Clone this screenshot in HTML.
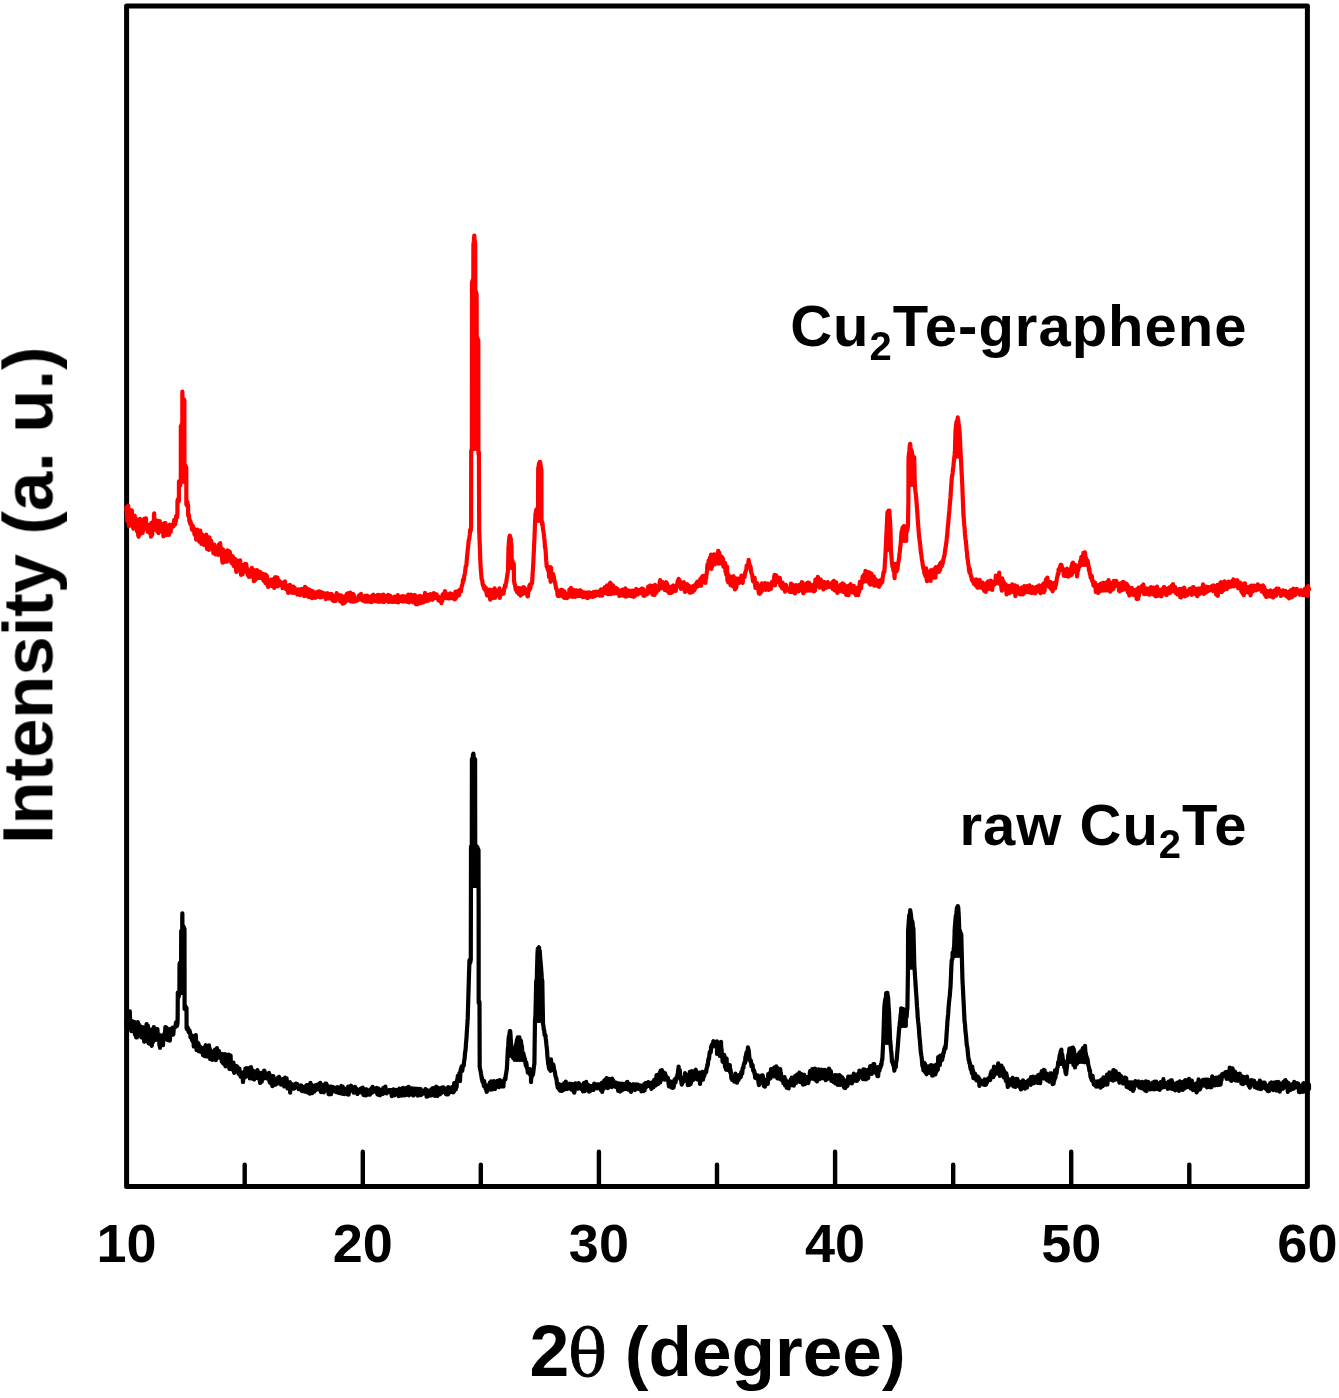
<!DOCTYPE html>
<html lang="en"><head><meta charset="utf-8"><title>XRD patterns</title>
<style>
html,body{margin:0;padding:0;background:#fff;}
body{width:1339px;height:1398px;overflow:hidden;}
svg{display:block;}
text{font-family:"Liberation Sans",sans-serif;font-weight:bold;fill:#000;}
.th{font-family:"DejaVu Serif","Liberation Serif",serif;font-weight:normal;}
</style></head><body>
<svg width="1339" height="1398" viewBox="0 0 1339 1398">
<defs><filter id="soft" x="0" y="0" width="1339" height="1398" filterUnits="userSpaceOnUse"><feGaussianBlur stdDeviation="0.6"/></filter></defs>
<rect x="0" y="0" width="1339" height="1398" fill="#fff"/>
<g filter="url(#soft)">
<path d="M244.7 1186.5 V1164.6 M362.8 1186.5 V1151.8 M480.8 1186.5 V1164.6 M598.9 1186.5 V1151.8 M717.0 1186.5 V1164.6 M835.1 1186.5 V1151.8 M953.2 1186.5 V1164.6 M1071.2 1186.5 V1151.8 M1189.3 1186.5 V1164.6" fill="none" stroke="#000" stroke-width="4.4" stroke-linecap="round"/>
<rect x="126.6" y="5.9" width="1180.8" height="1180.6" fill="none" stroke="#000" stroke-width="5" stroke-linejoin="round"/>
<path d="M126.20 510.5 L126.60 507.1 L127.00 515.3 L127.40 521.0 L127.80 514.4 L128.00 516.1 L128.20 505.7 L128.60 516.0 L129.00 526.1 L129.40 523.9 L129.80 520.7 L130.20 510.1 L130.30 524.5 L130.60 524.1 L131.00 512.7 L131.40 521.8 L131.80 510.3 L132.00 514.8 L132.20 517.5 L132.60 515.1 L133.00 526.9 L133.40 528.7 L133.80 520.0 L134.00 518.7 L134.20 515.9 L134.60 515.6 L135.00 526.7 L135.40 525.6 L135.80 518.0 L136.20 525.1 L136.60 524.1 L137.00 531.5 L137.00 529.6 L137.40 528.4 L137.80 528.2 L138.20 535.0 L138.60 536.6 L139.00 523.3 L139.40 522.0 L139.80 534.7 L140.00 518.8 L140.20 525.5 L140.60 520.6 L141.00 524.6 L141.40 519.5 L141.80 522.5 L142.20 531.9 L142.60 532.8 L143.00 530.8 L143.40 526.1 L143.80 525.7 L144.20 522.1 L144.60 518.7 L145.00 522.2 L145.40 526.5 L145.80 518.4 L146.00 518.4 L146.20 528.8 L146.60 523.3 L147.00 528.5 L147.40 529.5 L147.80 532.0 L148.20 525.6 L148.60 525.0 L149.00 531.5 L149.40 531.9 L149.80 529.9 L150.20 533.4 L150.60 529.9 L151.00 536.6 L151.40 522.9 L151.80 530.3 L152.20 534.8 L152.60 522.1 L153.00 526.4 L153.40 522.3 L153.80 524.4 L154.00 515.6 L154.20 513.3 L154.60 529.2 L155.00 522.7 L155.40 526.7 L155.80 529.7 L156.20 523.3 L156.60 523.6 L157.00 520.7 L157.40 531.6 L157.80 532.0 L158.20 530.7 L158.60 533.1 L159.00 529.6 L159.40 531.0 L159.80 521.2 L160.20 531.0 L160.60 525.1 L161.00 525.9 L161.40 523.8 L161.80 529.4 L162.20 531.4 L162.60 531.3 L163.00 526.9 L163.00 525.5 L163.40 536.5 L163.80 526.7 L164.20 529.5 L164.60 523.1 L165.00 526.2 L165.40 523.1 L165.80 526.8 L166.20 532.4 L166.60 535.1 L167.00 530.4 L167.40 525.9 L167.80 531.0 L168.00 530.5 L168.20 532.9 L168.60 528.6 L169.00 534.8 L169.40 527.0 L169.80 524.7 L170.20 527.6 L170.60 532.0 L171.00 528.6 L171.40 525.0 L171.80 524.9 L172.00 525.8 L172.20 524.7 L172.60 524.5 L173.00 526.6 L173.40 526.3 L173.80 525.4 L174.20 519.9 L174.60 522.7 L175.00 520.7 L175.20 524.5 L175.40 519.5 L175.80 521.6 L176.20 515.8 L176.60 515.8 L177.00 517.5 L177.40 514.0 L177.40 514.0 L177.44 501.5 L177.80 499.3 L178.20 502.2 L178.60 500.6 L178.90 501.0 L178.94 483.4 L179.00 481.3 L179.40 485.9 L179.80 485.7 L180.20 485.5 L180.60 482.2 L180.80 483.0 L180.84 426.0 L180.85 482.0 L180.86 426.0 L181.00 427.2 L181.40 427.4 L181.80 424.0 L182.20 424.8 L182.21 482.0 L182.22 424.8 L182.30 425.5 L182.34 393.0 L182.38 391.6 L182.42 393.1 L182.46 400.4 L182.60 397.5 L183.00 402.9 L183.40 401.6 L183.80 399.6 L183.81 482.0 L183.82 399.6 L184.20 399.6 L184.40 401.0 L184.44 467.0 L184.60 463.8 L185.00 466.9 L185.40 465.5 L185.41 482.0 L185.42 465.5 L185.80 467.6 L186.20 469.1 L186.30 467.5 L186.34 504.5 L186.60 500.8 L187.00 505.9 L187.40 501.8 L187.80 507.2 L188.10 505.0 L188.14 514.1 L188.20 515.8 L188.60 514.1 L189.00 515.9 L189.40 521.4 L189.80 519.8 L190.20 523.8 L190.30 520.9 L190.60 522.3 L191.00 524.8 L191.40 523.7 L191.80 528.2 L192.20 529.8 L192.60 527.5 L193.00 528.1 L193.00 526.2 L193.40 529.5 L193.80 528.0 L194.20 532.1 L194.60 534.8 L195.00 532.8 L195.40 533.6 L195.80 533.8 L196.20 539.7 L196.60 533.7 L197.00 539.3 L197.00 532.7 L197.40 529.5 L197.80 530.7 L198.20 539.3 L198.60 531.6 L199.00 540.7 L199.40 541.7 L199.80 536.5 L200.20 530.6 L200.60 539.2 L201.00 536.3 L201.40 543.8 L201.80 534.2 L202.20 535.2 L202.60 540.3 L203.00 540.4 L203.40 536.6 L203.80 539.1 L204.20 545.0 L204.60 542.4 L205.00 535.6 L205.00 541.1 L205.40 541.7 L205.80 542.4 L206.20 534.5 L206.60 536.8 L207.00 549.0 L207.40 547.8 L207.80 549.1 L208.20 546.5 L208.60 541.1 L209.00 550.0 L209.40 537.4 L209.80 543.8 L210.20 542.9 L210.60 542.7 L211.00 540.5 L211.40 541.9 L211.80 546.7 L212.20 544.5 L212.60 546.0 L213.00 545.5 L213.00 546.9 L213.40 553.2 L213.80 549.9 L214.20 544.5 L214.60 552.7 L215.00 550.1 L215.40 554.4 L215.80 550.7 L216.20 548.8 L216.60 554.1 L217.00 547.4 L217.40 548.4 L217.80 550.7 L218.20 554.8 L218.60 544.8 L219.00 548.4 L219.40 551.2 L219.80 553.3 L220.20 543.2 L220.60 554.0 L221.00 550.9 L221.00 551.0 L221.40 548.8 L221.80 548.4 L222.20 560.0 L222.60 562.6 L223.00 549.3 L223.40 550.6 L223.80 558.1 L224.20 560.7 L224.60 561.9 L225.00 556.0 L225.40 554.9 L225.80 552.8 L226.20 556.6 L226.60 558.1 L227.00 561.6 L227.40 550.3 L227.80 550.7 L228.20 558.6 L228.60 558.6 L229.00 551.8 L229.40 551.4 L229.80 551.8 L230.20 560.4 L230.60 556.0 L231.00 555.4 L231.40 563.0 L231.80 555.8 L232.20 561.1 L232.60 556.3 L233.00 556.8 L233.40 564.8 L233.80 566.0 L234.20 562.4 L234.60 561.6 L235.00 565.9 L235.40 559.2 L235.80 561.6 L236.20 571.1 L236.50 571.9 L236.60 561.2 L237.00 560.4 L237.40 568.4 L237.80 565.7 L238.20 568.1 L238.60 567.4 L239.00 564.7 L239.40 567.7 L239.80 567.6 L240.20 560.4 L240.60 567.2 L241.00 574.9 L241.40 573.0 L241.80 571.1 L242.20 570.8 L242.60 574.1 L243.00 565.0 L243.40 566.9 L243.80 570.6 L244.20 572.0 L244.60 565.4 L245.00 564.0 L245.40 564.4 L245.80 566.5 L246.20 564.0 L246.60 569.0 L247.00 571.9 L247.40 568.8 L247.80 575.1 L248.20 570.8 L248.60 571.7 L249.00 576.9 L249.40 574.3 L249.80 573.4 L250.20 576.7 L250.60 573.0 L251.00 576.3 L251.40 570.5 L251.80 567.8 L252.20 574.5 L252.60 574.0 L253.00 574.4 L253.40 570.4 L253.80 581.1 L254.20 570.2 L254.40 580.9 L254.60 572.1 L255.00 572.2 L255.40 579.0 L255.80 579.2 L256.20 576.8 L256.60 578.0 L257.00 570.2 L257.40 576.0 L257.80 574.9 L258.20 571.3 L258.60 574.9 L259.00 572.1 L259.40 578.2 L259.80 577.6 L260.20 571.9 L260.60 573.3 L261.00 575.7 L261.40 577.9 L261.80 575.4 L262.20 576.1 L262.60 578.8 L263.00 573.8 L263.40 580.6 L263.80 576.7 L264.20 576.5 L264.60 579.1 L265.00 574.6 L265.40 583.1 L265.80 574.7 L266.20 579.1 L266.60 583.3 L267.00 576.2 L267.40 582.5 L267.80 586.0 L268.20 586.9 L268.60 580.3 L269.00 582.2 L269.40 583.7 L269.80 581.4 L270.20 583.9 L270.60 583.2 L271.00 579.5 L271.40 582.4 L271.80 585.9 L272.20 582.0 L272.40 581.7 L272.60 580.4 L273.00 579.3 L273.40 584.7 L273.80 582.3 L274.20 587.9 L274.60 578.0 L275.00 585.5 L275.40 577.1 L275.80 583.9 L276.20 580.8 L276.60 583.9 L277.00 581.0 L277.40 577.6 L277.80 586.4 L278.20 583.6 L278.60 580.0 L279.00 584.0 L279.40 581.3 L279.80 583.3 L280.20 584.6 L280.60 584.9 L281.00 582.1 L281.40 582.4 L281.80 585.6 L282.20 585.2 L282.60 588.2 L283.00 585.8 L283.40 587.4 L283.80 583.9 L284.20 582.5 L284.60 583.3 L285.00 581.5 L285.40 585.0 L285.80 587.9 L286.20 589.4 L286.60 585.6 L287.00 588.6 L287.40 589.0 L287.80 588.9 L288.20 592.9 L288.60 589.5 L289.00 588.9 L289.40 590.4 L289.80 584.9 L290.20 585.0 L290.30 591.2 L290.60 589.4 L291.00 588.1 L291.40 590.6 L291.80 592.5 L292.20 591.4 L292.60 590.6 L293.00 592.6 L293.40 586.7 L293.80 593.0 L294.20 590.6 L294.60 587.9 L295.00 590.8 L295.40 592.4 L295.80 591.7 L296.20 592.6 L296.60 592.7 L297.00 594.0 L297.40 594.6 L297.80 591.0 L298.20 589.3 L298.60 591.4 L299.00 592.1 L299.40 590.7 L299.80 592.5 L300.20 595.2 L300.60 589.7 L301.00 591.3 L301.40 593.8 L301.80 588.8 L302.20 590.2 L302.60 592.1 L303.00 593.7 L303.40 593.8 L303.80 589.4 L304.20 596.1 L304.60 590.4 L305.00 586.9 L305.40 587.4 L305.80 591.3 L306.20 595.2 L306.60 588.3 L307.00 589.2 L307.40 596.0 L307.80 596.5 L308.20 590.6 L308.60 589.5 L309.00 595.4 L309.40 597.0 L309.80 589.9 L310.20 594.7 L310.40 591.0 L310.60 596.1 L311.00 591.6 L311.40 591.4 L311.80 594.6 L312.20 598.2 L312.60 591.0 L313.00 591.6 L313.40 592.6 L313.80 597.0 L314.20 593.0 L314.60 592.4 L315.00 593.6 L315.40 597.9 L315.80 592.4 L316.20 594.3 L316.60 594.3 L317.00 593.9 L317.40 593.5 L317.80 596.7 L318.20 591.6 L318.60 593.6 L319.00 591.4 L319.40 596.4 L319.80 593.4 L320.20 597.4 L320.60 594.6 L321.00 592.0 L321.40 597.2 L321.80 593.1 L322.20 595.7 L322.60 596.6 L323.00 592.9 L323.40 593.1 L323.80 594.9 L324.20 594.2 L324.60 593.9 L325.00 593.7 L325.40 594.5 L325.80 599.1 L326.20 594.6 L326.60 594.5 L327.00 593.6 L327.40 593.2 L327.80 593.3 L328.20 598.0 L328.60 598.3 L329.00 595.1 L329.40 596.3 L329.80 597.8 L330.20 597.9 L330.60 595.3 L331.00 593.9 L331.40 598.9 L331.80 594.2 L332.20 597.2 L332.60 600.3 L332.80 599.1 L333.00 595.9 L333.40 599.3 L333.80 601.1 L334.20 596.4 L334.60 599.9 L335.00 597.1 L335.40 595.8 L335.80 600.8 L336.20 598.4 L336.60 593.1 L337.00 597.3 L337.40 595.8 L337.80 596.4 L338.20 598.2 L338.60 594.9 L339.00 598.6 L339.40 595.3 L339.80 597.3 L340.20 601.5 L340.60 600.1 L341.00 596.8 L341.40 595.4 L341.80 599.3 L342.20 599.0 L342.60 603.6 L343.00 597.8 L343.40 602.4 L343.80 596.8 L344.20 602.0 L344.60 602.8 L345.00 596.3 L345.40 598.7 L345.80 601.3 L346.20 597.3 L346.60 594.2 L347.00 600.6 L347.40 597.9 L347.80 595.0 L348.20 593.2 L348.60 597.8 L349.00 595.1 L349.40 600.0 L349.80 594.2 L350.20 592.6 L350.60 601.5 L351.00 596.4 L351.40 600.3 L351.80 597.9 L352.20 600.7 L352.60 601.5 L353.00 593.9 L353.40 595.7 L353.80 594.8 L354.20 601.7 L354.60 599.4 L355.00 601.0 L355.40 601.3 L355.80 600.5 L356.20 600.1 L356.60 600.7 L357.00 598.5 L357.40 599.9 L357.80 600.3 L358.20 598.1 L358.60 595.9 L359.00 598.7 L359.40 595.0 L359.80 596.1 L360.20 596.9 L360.60 599.5 L361.00 593.9 L361.40 596.4 L361.80 595.9 L362.20 599.1 L362.60 600.5 L363.00 598.1 L363.40 600.7 L363.80 597.6 L364.20 598.2 L364.60 596.2 L365.00 596.0 L365.40 601.7 L365.80 598.9 L366.20 596.5 L366.50 599.4 L366.60 598.4 L367.00 595.7 L367.40 601.2 L367.80 601.6 L368.20 599.8 L368.60 596.7 L369.00 598.9 L369.40 597.8 L369.80 597.6 L370.20 598.4 L370.60 601.9 L371.00 601.2 L371.40 600.9 L371.80 602.1 L372.20 595.6 L372.60 596.7 L373.00 595.1 L373.40 594.6 L373.80 599.3 L374.20 596.8 L374.60 598.3 L375.00 600.9 L375.40 596.9 L375.80 597.1 L376.20 600.1 L376.60 595.9 L377.00 601.5 L377.40 597.7 L377.80 594.9 L378.20 597.2 L378.60 596.1 L379.00 601.9 L379.40 595.2 L379.80 595.2 L380.20 600.3 L380.60 596.3 L381.00 596.8 L381.40 601.6 L381.80 598.4 L382.20 601.3 L382.60 596.4 L383.00 594.6 L383.40 594.6 L383.80 602.1 L384.20 595.7 L384.60 595.6 L385.00 596.0 L385.40 599.3 L385.80 600.1 L386.20 598.2 L386.60 599.4 L387.00 598.2 L387.40 601.1 L387.80 599.4 L388.20 594.9 L388.60 596.6 L389.00 602.0 L389.40 597.8 L389.80 599.0 L390.20 595.8 L390.60 599.6 L391.00 599.7 L391.40 597.5 L391.80 601.9 L392.20 598.5 L392.60 598.1 L393.00 599.7 L393.40 601.8 L393.80 601.1 L394.20 599.7 L394.60 596.5 L395.00 599.3 L395.40 600.9 L395.80 601.8 L396.20 597.9 L396.60 600.0 L397.00 600.6 L397.40 600.8 L397.80 595.1 L398.20 602.3 L398.60 597.0 L399.00 601.0 L399.40 601.0 L399.80 599.1 L400.20 598.4 L400.60 596.6 L401.00 596.8 L401.40 601.1 L401.80 598.8 L402.20 597.5 L402.60 596.1 L403.00 601.0 L403.40 601.5 L403.80 600.5 L404.20 600.2 L404.60 596.4 L405.00 599.5 L405.40 599.0 L405.80 600.8 L406.20 600.6 L406.60 601.6 L407.00 601.5 L407.40 599.6 L407.80 600.8 L408.20 594.7 L408.60 598.3 L409.00 602.4 L409.40 595.3 L409.80 597.3 L410.20 600.6 L410.60 598.3 L411.00 594.7 L411.00 596.0 L411.40 599.1 L411.80 598.0 L412.20 598.4 L412.60 601.7 L413.00 602.2 L413.40 595.1 L413.80 601.6 L414.20 598.2 L414.60 600.4 L415.00 595.0 L415.40 598.3 L415.80 604.0 L416.20 604.1 L416.60 599.8 L417.00 598.1 L417.40 604.3 L417.80 600.5 L418.20 603.8 L418.60 596.4 L419.00 600.2 L419.40 598.5 L419.80 595.8 L420.20 600.1 L420.60 603.2 L421.00 598.9 L421.40 596.8 L421.80 600.6 L422.20 602.3 L422.60 601.3 L423.00 596.4 L423.40 602.4 L423.80 601.4 L424.20 597.8 L424.60 601.0 L425.00 592.8 L425.40 594.8 L425.80 596.9 L426.20 601.2 L426.60 600.2 L427.00 599.6 L427.40 599.7 L427.80 598.8 L428.20 594.9 L428.60 600.6 L429.00 599.5 L429.40 596.8 L429.80 598.7 L430.20 597.6 L430.60 594.2 L431.00 599.5 L431.40 596.1 L431.80 597.3 L432.20 598.3 L432.60 599.8 L433.00 597.0 L433.40 596.7 L433.80 593.2 L434.20 594.5 L434.60 597.9 L435.00 595.2 L435.40 597.0 L435.80 594.3 L436.20 598.1 L436.60 594.4 L437.00 597.3 L437.40 595.9 L437.80 597.6 L438.20 596.5 L438.60 600.5 L439.00 597.6 L439.40 597.1 L439.80 598.0 L440.00 597.9 L440.20 601.1 L440.60 597.8 L441.00 597.4 L441.40 603.2 L441.80 597.0 L442.20 601.0 L442.60 594.7 L443.00 598.9 L443.40 593.9 L443.80 595.9 L444.20 594.5 L444.60 596.3 L445.00 591.2 L445.40 593.0 L445.80 597.7 L446.20 598.1 L446.60 598.1 L447.00 596.4 L447.40 597.9 L447.80 595.3 L448.20 594.3 L448.60 598.3 L449.00 595.9 L449.40 594.1 L449.80 598.3 L450.20 593.3 L450.60 597.1 L451.00 593.6 L451.40 597.2 L451.80 595.8 L452.00 598.2 L452.20 595.6 L452.60 597.4 L453.00 594.5 L453.40 598.0 L453.80 594.6 L454.20 599.0 L454.60 596.8 L455.00 599.3 L455.40 591.6 L455.80 594.5 L456.20 597.9 L456.60 593.3 L457.00 595.0 L457.40 594.0 L457.80 591.0 L458.00 591.1 L458.20 593.6 L458.60 591.6 L459.00 595.4 L459.40 591.0 L459.80 589.7 L460.20 589.4 L460.60 589.8 L461.00 591.5 L461.00 591.0 L461.40 588.2 L461.80 586.2 L462.20 584.9 L462.60 583.8 L463.00 579.5 L463.40 581.2 L463.80 580.0 L464.20 576.6 L464.30 575.8 L464.60 574.8 L465.00 572.5 L465.40 569.2 L465.80 566.1 L466.20 566.1 L466.50 564.6 L466.60 562.5 L467.00 557.4 L467.40 553.6 L467.80 549.0 L468.20 546.7 L468.60 540.6 L468.60 540.9 L469.00 539.8 L469.40 537.7 L469.80 534.3 L470.20 529.9 L470.60 529.2 L470.80 530.8 L471.00 526.9 L471.10 527.0 L471.20 451.0 L471.40 450.2 L471.80 449.0 L471.90 450.0 L472.00 282.0 L472.01 449.0 L472.02 282.0 L472.20 283.9 L472.60 280.2 L473.00 280.2 L473.30 280.0 L473.31 449.0 L473.32 280.0 L473.40 244.6 L473.40 244.5 L473.80 241.4 L474.20 236.6 L474.30 235.5 L474.60 240.3 L474.61 449.0 L474.62 240.3 L475.00 242.6 L475.20 244.0 L475.30 292.9 L475.40 292.7 L475.80 291.4 L476.20 292.9 L476.21 449.0 L476.22 292.9 L476.60 294.0 L476.60 294.0 L476.70 338.0 L477.00 340.0 L477.40 337.9 L477.80 340.4 L477.81 449.0 L477.82 340.4 L478.20 342.5 L478.30 340.0 L478.40 450.0 L478.60 454.7 L478.90 452.1 L479.00 478.1 L479.20 530.0 L479.40 535.3 L479.80 546.0 L480.20 557.8 L480.40 562.4 L480.60 566.3 L481.00 571.3 L481.40 576.4 L481.60 578.6 L481.80 579.6 L482.20 580.2 L482.60 584.1 L483.00 584.9 L483.40 586.4 L483.50 585.2 L483.80 585.6 L484.20 588.7 L484.60 586.5 L485.00 589.8 L485.40 589.6 L485.80 587.8 L486.20 591.4 L486.60 593.2 L487.00 595.4 L487.00 590.2 L487.40 591.6 L487.80 592.4 L488.20 592.9 L488.60 591.5 L489.00 592.0 L489.40 589.6 L489.80 594.9 L490.20 599.6 L490.60 591.6 L491.00 596.6 L491.40 594.9 L491.80 592.5 L492.00 592.7 L492.20 598.2 L492.60 589.8 L493.00 594.2 L493.40 593.9 L493.80 597.4 L494.20 589.9 L494.60 588.3 L495.00 597.8 L495.40 592.2 L495.80 592.9 L496.20 590.6 L496.60 592.4 L497.00 592.0 L497.40 595.1 L497.80 591.2 L498.20 591.6 L498.60 592.7 L499.00 592.6 L499.40 588.3 L499.80 597.8 L500.00 596.6 L500.20 595.1 L500.60 594.1 L501.00 590.8 L501.40 593.2 L501.80 594.1 L502.20 592.9 L502.60 593.8 L503.00 592.8 L503.40 592.3 L503.50 593.7 L503.80 591.2 L504.20 588.0 L504.60 588.1 L505.00 585.0 L505.40 585.6 L505.50 586.7 L505.80 583.6 L506.20 582.4 L506.60 579.8 L506.60 579.5 L507.00 577.1 L507.40 575.0 L507.80 571.9 L508.00 570.1 L508.20 560.6 L508.21 568.0 L508.22 560.6 L508.50 546.4 L508.60 545.7 L509.00 540.9 L509.40 536.9 L509.40 538.3 L509.80 535.5 L509.81 568.0 L509.82 535.5 L510.10 537.0 L510.20 538.5 L510.60 538.9 L510.80 538.4 L511.00 541.9 L511.40 545.5 L511.41 568.0 L511.42 545.5 L511.50 545.9 L511.70 563.0 L511.80 560.3 L512.20 559.8 L512.60 565.9 L513.00 566.0 L513.40 563.1 L513.41 568.0 L513.42 563.1 L513.80 564.0 L513.80 564.0 L514.00 580.8 L514.20 581.8 L514.60 584.2 L515.00 584.6 L515.40 587.2 L515.50 588.4 L515.80 589.8 L516.20 588.1 L516.60 588.6 L517.00 592.0 L517.00 591.5 L517.40 590.6 L517.80 589.8 L518.20 588.1 L518.60 593.9 L519.00 591.2 L519.40 588.3 L519.80 589.3 L520.00 594.2 L520.20 588.4 L520.60 595.6 L521.00 594.8 L521.40 588.3 L521.80 593.5 L522.20 590.0 L522.60 589.7 L523.00 593.9 L523.40 587.0 L523.80 589.9 L524.20 592.8 L524.60 587.9 L525.00 591.5 L525.40 589.5 L525.80 589.6 L526.20 590.9 L526.60 593.4 L527.00 591.9 L527.00 594.1 L527.40 595.9 L527.80 596.4 L528.20 592.8 L528.60 588.8 L529.00 590.7 L529.40 585.7 L529.50 586.7 L529.80 584.8 L530.20 588.8 L530.60 585.9 L531.00 584.5 L531.40 582.9 L531.80 582.7 L532.00 583.4 L532.20 580.9 L532.60 574.2 L533.00 568.4 L533.20 564.5 L533.40 560.8 L533.80 552.0 L534.20 543.4 L534.30 541.5 L534.60 534.5 L535.00 524.0 L535.40 515.9 L535.41 521.0 L535.42 515.9 L535.40 514.3 L535.80 512.9 L536.20 510.4 L536.40 509.5 L536.60 513.5 L537.00 510.1 L537.01 521.0 L537.02 510.1 L537.40 510.6 L537.80 510.8 L538.00 510.8 L538.20 468.1 L538.20 468.1 L538.60 466.9 L538.61 521.0 L538.62 466.9 L539.00 463.1 L539.20 464.6 L539.40 463.4 L539.70 464.1 L539.80 461.9 L540.20 462.0 L540.21 521.0 L540.22 462.0 L540.30 463.7 L540.60 465.1 L541.00 467.5 L541.40 470.0 L541.40 470.0 L541.50 520.0 L541.80 521.0 L542.20 524.9 L542.60 523.0 L542.60 523.5 L543.00 529.6 L543.40 531.0 L543.80 533.8 L544.20 537.7 L544.60 540.9 L545.00 547.7 L545.30 547.7 L545.40 548.5 L545.80 553.3 L546.20 560.4 L546.60 564.8 L546.70 566.6 L547.00 565.6 L547.40 567.2 L547.60 568.5 L547.80 569.5 L548.20 570.4 L548.60 570.4 L549.00 573.9 L549.00 576.9 L549.40 573.8 L549.80 573.5 L550.20 567.1 L550.60 581.8 L551.00 567.6 L551.00 567.5 L551.40 574.0 L551.80 578.0 L552.20 573.9 L552.60 576.8 L553.00 575.7 L553.00 573.9 L553.40 575.4 L553.80 576.7 L554.20 580.0 L554.60 580.8 L555.00 582.6 L555.00 582.4 L555.40 584.3 L555.80 586.7 L556.20 589.0 L556.60 588.9 L557.00 590.1 L557.40 592.5 L557.50 595.0 L557.80 595.7 L558.20 593.0 L558.60 593.4 L559.00 594.7 L559.40 596.0 L559.80 595.2 L560.20 593.3 L560.60 594.5 L561.00 589.9 L561.40 593.0 L561.80 589.9 L562.20 593.1 L562.60 590.3 L563.00 596.6 L563.40 596.5 L563.80 594.7 L564.20 597.8 L564.60 591.3 L565.00 596.3 L565.00 593.5 L565.40 595.5 L565.80 596.0 L566.20 597.2 L566.60 598.0 L567.00 595.5 L567.40 597.9 L567.80 593.9 L568.20 596.0 L568.60 593.8 L569.00 597.0 L569.40 589.5 L569.80 595.5 L570.20 595.7 L570.60 594.1 L571.00 587.8 L571.40 593.5 L571.80 595.1 L572.20 589.9 L572.60 596.9 L573.00 591.3 L573.40 590.2 L573.80 594.2 L574.20 590.1 L574.60 593.9 L575.00 592.8 L575.40 596.9 L575.80 591.9 L576.20 593.6 L576.60 590.3 L577.00 593.2 L577.40 595.0 L577.80 590.8 L578.20 592.4 L578.60 596.2 L579.00 594.1 L579.40 592.8 L579.80 592.0 L580.20 590.2 L580.60 595.9 L581.00 593.9 L581.40 592.1 L581.80 591.3 L582.20 595.9 L582.60 597.0 L583.00 592.9 L583.40 593.2 L583.80 596.7 L584.20 592.4 L584.60 594.1 L585.00 594.3 L585.40 595.5 L585.80 594.5 L586.20 597.5 L586.60 596.8 L587.00 593.7 L587.40 592.4 L587.80 598.1 L588.20 597.0 L588.60 594.5 L589.00 595.9 L589.40 592.3 L589.80 593.4 L590.20 596.6 L590.60 594.7 L591.00 594.9 L591.40 594.0 L591.80 593.1 L592.20 593.5 L592.60 595.2 L593.00 596.9 L593.40 592.2 L593.80 596.2 L594.20 592.0 L594.60 593.1 L595.00 592.0 L595.40 596.0 L595.80 594.4 L596.20 591.6 L596.60 595.0 L597.00 594.0 L597.40 593.7 L597.80 592.4 L598.20 592.7 L598.60 595.2 L599.00 591.6 L599.40 591.2 L599.80 595.6 L600.00 592.9 L600.20 592.5 L600.60 591.0 L601.00 589.5 L601.40 592.3 L601.80 594.7 L602.20 595.6 L602.60 591.4 L603.00 589.5 L603.40 590.0 L603.80 589.0 L604.20 590.5 L604.60 587.4 L605.00 592.9 L605.00 591.4 L605.40 592.2 L605.80 593.2 L606.20 592.7 L606.60 587.6 L607.00 585.5 L607.40 588.3 L607.80 594.2 L608.20 594.1 L608.60 590.5 L609.00 586.9 L609.30 590.1 L609.40 585.5 L609.80 583.4 L610.20 582.8 L610.60 583.1 L611.00 594.1 L611.40 589.1 L611.80 587.3 L612.20 592.0 L612.60 589.5 L613.00 585.4 L613.40 590.1 L613.80 589.4 L614.00 591.0 L614.20 593.5 L614.60 587.6 L615.00 593.1 L615.40 589.0 L615.80 588.0 L616.20 589.9 L616.60 593.2 L617.00 590.3 L617.40 588.8 L617.80 592.8 L618.20 592.2 L618.60 592.8 L619.00 593.0 L619.40 596.0 L619.80 591.6 L620.00 595.4 L620.20 592.5 L620.60 593.1 L621.00 590.4 L621.40 595.5 L621.80 593.8 L622.20 591.4 L622.60 589.6 L623.00 591.0 L623.40 591.1 L623.80 593.6 L624.20 595.9 L624.60 591.3 L625.00 590.5 L625.40 588.4 L625.80 596.7 L626.20 590.7 L626.60 596.4 L627.00 595.2 L627.40 592.2 L627.80 591.6 L628.20 590.5 L628.60 590.6 L629.00 594.7 L629.40 595.9 L629.80 593.9 L630.20 590.9 L630.60 595.3 L631.00 594.3 L631.40 596.1 L631.80 593.4 L632.20 595.5 L632.60 590.6 L633.00 592.1 L633.40 591.4 L633.80 596.8 L634.20 593.9 L634.60 591.1 L635.00 596.0 L635.40 593.1 L635.80 590.5 L636.00 589.3 L636.20 589.1 L636.60 592.6 L637.00 589.9 L637.40 593.9 L637.80 594.4 L638.20 591.7 L638.60 590.1 L639.00 592.8 L639.40 593.1 L639.80 590.7 L640.20 592.0 L640.60 593.0 L641.00 589.4 L641.40 591.4 L641.80 588.7 L642.20 590.6 L642.60 589.8 L643.00 588.9 L643.40 595.6 L643.80 593.6 L644.20 594.0 L644.60 595.8 L645.00 595.1 L645.40 592.0 L645.80 590.6 L646.20 592.0 L646.60 593.8 L647.00 594.1 L647.40 594.0 L647.50 590.4 L647.80 591.4 L648.20 586.7 L648.60 589.8 L649.00 592.7 L649.40 586.4 L649.80 585.7 L650.20 587.5 L650.60 585.9 L651.00 586.6 L651.40 585.9 L651.80 588.5 L652.20 586.8 L652.60 594.7 L653.00 586.3 L653.40 586.0 L653.80 588.1 L654.20 593.6 L654.60 594.9 L655.00 588.3 L655.00 584.8 L655.40 592.0 L655.80 587.6 L656.20 592.9 L656.60 588.2 L657.00 588.2 L657.40 586.4 L657.80 590.3 L658.20 590.4 L658.60 589.6 L659.00 589.1 L659.40 585.6 L659.80 581.3 L660.20 580.1 L660.60 584.6 L661.00 588.3 L661.40 582.1 L661.80 583.8 L661.90 584.4 L662.20 586.4 L662.60 582.1 L663.00 582.7 L663.40 583.2 L663.80 586.0 L664.20 586.6 L664.60 589.8 L665.00 585.8 L665.40 589.4 L665.80 583.5 L666.20 582.2 L666.60 590.7 L667.00 588.0 L667.00 583.6 L667.40 588.9 L667.80 589.1 L668.20 586.0 L668.60 592.4 L669.00 592.7 L669.40 589.5 L669.80 587.0 L670.20 587.4 L670.60 593.0 L671.00 587.6 L671.40 589.6 L671.50 586.6 L671.80 589.9 L672.20 592.5 L672.60 591.2 L673.00 587.1 L673.40 585.5 L673.80 588.5 L674.20 588.2 L674.60 590.6 L675.00 586.3 L675.40 589.4 L675.80 590.9 L676.00 586.7 L676.20 587.5 L676.60 586.8 L677.00 587.0 L677.40 582.6 L677.80 580.6 L678.20 581.2 L678.60 582.7 L678.60 578.9 L679.00 579.5 L679.40 583.3 L679.80 580.9 L680.20 585.4 L680.60 586.0 L681.00 587.1 L681.00 588.9 L681.40 586.3 L681.80 586.6 L682.20 583.0 L682.60 587.6 L683.00 588.1 L683.40 588.8 L683.80 582.0 L684.00 586.2 L684.20 586.9 L684.60 587.5 L685.00 591.9 L685.40 584.0 L685.80 589.0 L686.20 590.7 L686.60 587.3 L687.00 586.0 L687.40 584.2 L687.80 591.0 L688.20 587.2 L688.60 587.4 L689.00 585.8 L689.40 586.8 L689.80 592.7 L690.20 590.4 L690.60 592.6 L691.00 588.0 L691.40 590.9 L691.80 590.6 L692.20 586.6 L692.60 591.8 L693.00 586.0 L693.40 589.3 L693.80 587.6 L694.20 590.4 L694.60 587.2 L695.00 589.0 L695.00 588.8 L695.40 584.3 L695.80 587.7 L696.20 586.1 L696.60 584.3 L697.00 582.2 L697.40 581.6 L697.80 586.3 L698.20 583.2 L698.60 585.6 L699.00 581.4 L699.40 584.8 L699.80 580.6 L700.00 581.5 L700.20 579.2 L700.60 585.2 L701.00 585.7 L701.40 580.0 L701.80 577.1 L702.20 581.9 L702.60 579.1 L703.00 575.8 L703.40 580.6 L703.80 579.7 L704.20 580.9 L704.60 581.2 L705.00 582.7 L705.00 575.8 L705.40 582.8 L705.80 575.6 L706.20 578.2 L706.60 573.8 L707.00 571.0 L707.40 564.5 L707.80 565.5 L708.20 568.6 L708.60 560.5 L709.00 563.3 L709.00 561.5 L709.40 563.7 L709.80 557.9 L710.20 565.3 L710.60 558.6 L711.00 554.6 L711.40 568.9 L711.80 565.8 L712.00 564.7 L712.20 566.3 L712.60 556.8 L713.00 556.4 L713.40 554.7 L713.80 556.4 L714.20 563.1 L714.50 554.4 L714.60 564.5 L715.00 557.9 L715.40 562.7 L715.80 559.8 L716.20 558.1 L716.60 555.6 L717.00 560.2 L717.40 556.6 L717.80 563.3 L718.00 553.7 L718.20 550.8 L718.60 558.8 L719.00 553.9 L719.40 552.8 L719.80 563.6 L720.20 562.3 L720.60 556.9 L721.00 557.5 L721.40 559.0 L721.80 556.8 L722.00 558.6 L722.20 557.8 L722.60 558.5 L723.00 558.6 L723.40 566.7 L723.80 566.5 L724.20 567.2 L724.60 565.4 L725.00 562.9 L725.40 567.0 L725.50 572.0 L725.80 570.0 L726.20 574.6 L726.60 567.8 L727.00 566.6 L727.40 580.5 L727.80 573.8 L728.20 582.5 L728.60 578.0 L729.00 575.9 L729.00 580.5 L729.40 578.4 L729.80 576.2 L730.20 581.4 L730.60 585.2 L731.00 583.3 L731.40 582.2 L731.80 584.1 L732.20 583.9 L732.60 576.9 L733.00 586.4 L733.00 576.5 L733.40 576.3 L733.80 582.8 L734.20 577.8 L734.60 585.1 L735.00 589.5 L735.40 586.6 L735.80 578.4 L736.00 580.9 L736.20 588.0 L736.60 584.9 L737.00 583.2 L737.40 579.4 L737.80 578.7 L738.20 580.3 L738.60 580.4 L739.00 578.6 L739.40 582.9 L739.80 578.5 L740.00 579.3 L740.20 580.5 L740.60 579.8 L741.00 579.7 L741.40 575.5 L741.80 578.6 L742.20 581.7 L742.60 582.9 L743.00 579.2 L743.40 576.7 L743.80 577.2 L744.00 575.5 L744.20 575.6 L744.60 577.0 L745.00 573.1 L745.40 572.7 L745.80 570.6 L746.20 570.3 L746.50 568.7 L746.60 565.5 L747.00 565.8 L747.40 567.2 L747.80 564.5 L748.20 564.5 L748.60 559.9 L748.70 559.9 L749.00 562.7 L749.40 563.9 L749.80 565.2 L750.20 567.6 L750.60 566.7 L751.00 570.5 L751.00 570.8 L751.40 572.9 L751.80 574.1 L752.20 574.4 L752.60 578.3 L753.00 581.2 L753.00 580.8 L753.40 581.6 L753.80 581.8 L754.20 577.5 L754.60 577.8 L755.00 583.2 L755.40 587.8 L755.80 583.8 L756.20 585.1 L756.60 587.7 L757.00 583.1 L757.00 586.6 L757.40 586.3 L757.80 586.0 L758.20 585.6 L758.60 591.9 L759.00 593.6 L759.40 591.6 L759.80 593.8 L760.20 588.1 L760.60 585.9 L761.00 592.2 L761.40 585.4 L761.80 583.4 L762.00 588.8 L762.20 590.7 L762.60 587.2 L763.00 586.8 L763.40 588.4 L763.80 586.3 L764.20 587.9 L764.60 585.3 L765.00 583.1 L765.40 588.3 L765.80 589.8 L766.20 589.6 L766.60 588.2 L767.00 583.8 L767.40 589.4 L767.80 584.6 L768.00 583.6 L768.20 587.8 L768.60 589.9 L769.00 587.2 L769.40 586.8 L769.80 588.6 L770.20 586.5 L770.60 586.5 L771.00 588.9 L771.40 583.7 L771.80 585.6 L772.00 581.8 L772.20 585.1 L772.60 581.6 L773.00 584.2 L773.40 582.5 L773.80 584.8 L774.20 576.6 L774.60 574.8 L775.00 585.3 L775.40 579.3 L775.40 582.3 L775.80 578.8 L776.20 575.4 L776.60 581.2 L777.00 577.4 L777.40 578.4 L777.80 579.3 L778.20 580.2 L778.60 582.1 L779.00 580.3 L779.00 577.6 L779.40 582.3 L779.80 577.8 L780.20 584.9 L780.60 586.1 L781.00 586.0 L781.40 584.4 L781.80 585.2 L782.20 588.4 L782.60 582.6 L783.00 588.7 L783.40 584.5 L783.80 586.0 L784.00 585.6 L784.20 586.9 L784.60 589.6 L785.00 591.6 L785.40 586.6 L785.80 584.8 L786.20 585.6 L786.60 589.0 L787.00 589.5 L787.40 589.1 L787.80 588.5 L788.20 589.9 L788.60 588.7 L789.00 590.9 L789.40 589.0 L789.80 591.9 L790.20 588.9 L790.60 589.4 L791.00 583.5 L791.40 591.2 L791.80 592.0 L792.20 588.3 L792.60 585.4 L793.00 584.9 L793.40 586.2 L793.80 590.9 L794.20 588.6 L794.60 588.7 L795.00 593.5 L795.00 592.6 L795.40 590.1 L795.80 586.0 L796.20 585.2 L796.60 589.1 L797.00 586.0 L797.40 589.9 L797.80 589.6 L798.20 589.9 L798.60 591.3 L799.00 586.8 L799.40 584.9 L799.80 590.0 L800.20 585.0 L800.60 586.1 L801.00 587.0 L801.40 588.7 L801.80 582.2 L802.20 585.7 L802.60 582.7 L803.00 590.1 L803.00 592.1 L803.40 593.2 L803.80 590.0 L804.20 587.6 L804.60 591.7 L805.00 586.5 L805.40 585.5 L805.80 585.3 L806.20 583.9 L806.60 584.8 L807.00 590.7 L807.40 587.1 L807.80 582.6 L808.20 585.8 L808.60 584.9 L809.00 582.9 L809.40 583.9 L809.80 590.7 L810.20 586.8 L810.60 590.5 L811.00 584.5 L811.40 586.1 L811.80 589.9 L812.20 588.2 L812.60 590.8 L813.00 590.9 L813.40 588.0 L813.80 588.9 L814.20 591.4 L814.60 583.9 L815.00 590.5 L815.00 589.5 L815.40 579.5 L815.80 582.3 L816.20 582.7 L816.60 585.9 L817.00 581.7 L817.40 582.2 L817.80 576.9 L818.20 578.4 L818.60 580.5 L819.00 581.7 L819.40 587.6 L819.80 581.5 L820.20 586.3 L820.60 579.4 L821.00 584.5 L821.40 586.8 L821.80 581.5 L822.00 581.1 L822.20 582.1 L822.60 584.7 L823.00 585.8 L823.40 589.5 L823.80 583.2 L824.20 585.9 L824.60 582.2 L825.00 584.6 L825.40 583.9 L825.80 588.0 L826.20 585.2 L826.60 587.0 L827.00 585.9 L827.00 584.5 L827.40 586.3 L827.80 582.2 L828.20 586.3 L828.60 587.0 L829.00 583.6 L829.40 584.3 L829.80 586.4 L830.20 586.1 L830.60 586.3 L831.00 586.8 L831.40 586.4 L831.80 585.2 L832.20 582.7 L832.60 588.8 L833.00 581.7 L833.00 582.3 L833.40 583.4 L833.80 580.8 L834.20 583.2 L834.60 590.5 L835.00 583.5 L835.40 587.8 L835.80 590.7 L836.20 582.4 L836.60 590.0 L837.00 590.4 L837.40 593.0 L837.80 586.0 L838.20 590.4 L838.60 590.0 L839.00 589.6 L839.00 588.6 L839.40 591.3 L839.80 590.3 L840.20 587.3 L840.60 586.1 L841.00 584.3 L841.40 589.6 L841.80 584.8 L842.20 589.9 L842.60 583.3 L843.00 591.9 L843.40 586.0 L843.80 585.7 L844.20 584.4 L844.60 592.3 L845.00 589.5 L845.40 591.0 L845.80 589.1 L846.20 594.9 L846.60 593.0 L847.00 593.8 L847.40 588.2 L847.80 593.3 L848.20 585.8 L848.60 595.2 L849.00 585.9 L849.40 590.7 L849.80 587.0 L850.00 587.6 L850.20 589.9 L850.60 584.2 L851.00 588.2 L851.40 586.6 L851.80 592.1 L852.20 592.4 L852.60 588.9 L853.00 590.0 L853.40 588.5 L853.80 585.9 L854.20 592.7 L854.60 588.2 L855.00 589.1 L855.40 594.0 L855.80 595.0 L856.20 588.2 L856.60 594.4 L857.00 593.4 L857.40 587.7 L857.80 590.2 L858.20 595.1 L858.60 587.9 L859.00 588.1 L859.00 587.5 L859.40 591.4 L859.80 581.9 L860.20 581.8 L860.60 585.3 L861.00 588.4 L861.40 584.7 L861.80 581.7 L862.20 582.6 L862.60 576.5 L863.00 579.1 L863.40 579.3 L863.80 574.9 L864.00 575.4 L864.20 574.6 L864.60 578.3 L865.00 581.5 L865.40 570.8 L865.80 578.7 L866.20 577.6 L866.60 581.2 L867.00 575.9 L867.40 581.1 L867.80 577.3 L868.20 572.1 L868.60 580.1 L869.00 580.8 L869.00 583.0 L869.40 573.4 L869.80 572.6 L870.20 584.7 L870.60 576.8 L871.00 577.5 L871.40 573.7 L871.80 577.3 L872.20 576.5 L872.60 577.5 L873.00 580.2 L873.40 576.4 L873.80 576.3 L874.00 579.8 L874.20 585.7 L874.60 581.8 L875.00 579.0 L875.40 579.0 L875.80 583.0 L876.20 584.9 L876.60 582.7 L877.00 582.5 L877.40 580.6 L877.80 586.0 L878.20 581.6 L878.60 582.8 L879.00 584.8 L879.00 586.8 L879.40 580.9 L879.80 585.5 L880.20 584.1 L880.60 580.1 L881.00 580.6 L881.40 583.2 L881.50 582.0 L881.80 579.5 L882.20 582.2 L882.60 578.2 L883.00 576.2 L883.40 572.7 L883.80 571.7 L884.20 572.1 L884.30 572.1 L884.60 568.3 L885.00 561.0 L885.40 556.0 L885.40 555.6 L885.80 547.6 L885.81 550.0 L885.82 547.6 L886.20 538.6 L886.60 530.5 L886.60 529.9 L887.00 522.2 L887.40 512.8 L887.41 550.0 L887.42 512.8 L887.40 512.5 L887.80 511.8 L888.20 512.5 L888.60 510.7 L889.00 510.9 L889.01 550.0 L889.02 510.9 L889.30 512.2 L889.40 510.7 L889.60 514.6 L889.80 518.0 L890.20 524.0 L890.50 530.2 L890.51 550.0 L890.52 530.2 L890.60 534.1 L891.00 552.2 L891.00 551.0 L891.40 555.5 L891.80 560.7 L892.20 563.9 L892.50 566.8 L892.60 565.1 L893.00 566.0 L893.40 570.7 L893.80 565.7 L894.20 572.6 L894.60 578.2 L895.00 563.9 L895.40 569.0 L895.50 570.5 L895.80 567.2 L896.20 571.7 L896.60 571.2 L897.00 570.2 L897.40 566.2 L897.60 568.8 L897.80 565.8 L898.20 562.8 L898.60 561.4 L899.00 558.3 L899.30 556.9 L899.40 554.1 L899.80 552.2 L900.20 547.4 L900.60 544.7 L900.60 544.9 L901.00 539.9 L901.40 533.5 L901.41 541.0 L901.42 533.5 L901.60 532.1 L901.80 530.7 L902.20 531.4 L902.60 527.6 L903.00 529.5 L903.01 541.0 L903.02 529.5 L903.40 529.1 L903.50 529.3 L903.80 526.0 L904.20 526.2 L904.60 526.8 L904.61 541.0 L904.62 526.8 L905.00 531.0 L905.40 531.6 L905.50 532.2 L905.80 532.4 L906.20 529.5 L906.21 541.0 L906.22 529.5 L906.60 532.1 L907.00 529.9 L907.20 530.9 L907.40 529.3 L907.80 527.5 L908.00 523.5 L908.20 511.9 L908.40 500.0 L908.50 458.0 L908.51 485.0 L908.52 458.0 L908.60 457.1 L909.00 453.7 L909.40 450.4 L909.50 449.0 L909.80 445.2 L909.81 485.0 L909.82 445.2 L910.10 443.8 L910.20 444.3 L910.60 447.7 L910.80 449.1 L911.00 449.9 L911.40 450.9 L911.41 485.0 L911.42 450.9 L911.80 451.2 L912.20 456.1 L912.50 455.1 L912.60 456.8 L913.00 457.0 L913.01 485.0 L913.02 457.0 L913.40 457.2 L913.80 458.4 L914.20 457.3 L914.20 457.3 L914.60 474.7 L914.61 485.0 L914.62 474.7 L914.80 483.3 L915.00 486.3 L915.40 491.0 L915.80 493.7 L916.20 498.4 L916.60 503.0 L916.60 502.3 L917.00 508.2 L917.40 513.6 L917.80 519.9 L918.20 525.4 L918.60 530.5 L918.80 532.6 L919.00 535.8 L919.40 538.6 L919.80 542.2 L920.20 544.7 L920.60 549.6 L921.00 552.6 L921.00 552.9 L921.40 555.1 L921.80 558.8 L922.20 560.8 L922.60 563.6 L923.00 566.6 L923.00 565.9 L923.40 568.6 L923.80 567.6 L924.20 572.1 L924.60 574.1 L925.00 572.3 L925.00 571.1 L925.40 576.1 L925.80 576.5 L926.20 568.4 L926.60 579.2 L927.00 581.2 L927.40 577.0 L927.50 572.3 L927.80 577.1 L928.20 576.0 L928.60 575.6 L929.00 575.0 L929.40 575.9 L929.80 573.3 L930.20 571.2 L930.60 580.8 L931.00 570.1 L931.40 573.4 L931.80 571.2 L932.20 572.3 L932.60 575.6 L933.00 576.0 L933.00 576.8 L933.40 575.4 L933.80 577.7 L934.20 569.2 L934.60 575.2 L935.00 569.9 L935.40 577.6 L935.80 567.2 L936.20 568.2 L936.60 569.2 L937.00 571.1 L937.40 568.1 L937.80 572.2 L938.20 571.2 L938.60 568.5 L939.00 571.8 L939.00 565.8 L939.40 566.9 L939.80 564.0 L940.20 569.9 L940.60 562.8 L941.00 564.9 L941.40 562.8 L941.80 566.2 L942.00 564.5 L942.20 561.4 L942.60 563.9 L943.00 561.7 L943.40 559.3 L943.80 557.9 L944.20 555.9 L944.60 555.1 L944.90 551.3 L945.00 551.8 L945.40 548.1 L945.80 546.6 L946.20 543.2 L946.60 540.7 L947.00 535.6 L947.00 537.4 L947.40 532.1 L947.80 526.6 L948.20 523.6 L948.60 518.5 L948.70 517.4 L949.00 513.9 L949.40 510.2 L949.80 504.6 L950.20 500.3 L950.50 497.2 L950.60 495.4 L951.00 488.5 L951.40 483.6 L951.80 477.9 L951.80 477.1 L952.20 476.1 L952.60 473.0 L953.00 468.8 L953.00 468.9 L953.40 466.5 L953.80 461.8 L954.00 460.4 L954.20 458.5 L954.60 454.9 L955.00 449.4 L955.01 456.6 L955.02 449.4 L955.00 448.4 L955.40 435.3 L955.50 431.6 L955.80 427.5 L956.20 424.0 L956.60 421.4 L956.61 456.6 L956.62 421.4 L956.60 422.2 L957.00 422.0 L957.40 421.2 L957.80 417.4 L957.90 418.2 L958.20 420.2 L958.21 456.6 L958.22 420.2 L958.60 424.2 L958.80 424.5 L959.00 426.5 L959.40 430.2 L959.60 431.9 L959.61 456.6 L959.62 431.9 L959.80 435.6 L960.20 443.9 L960.60 453.0 L961.00 460.5 L961.00 459.6 L961.40 468.1 L961.80 475.6 L962.20 483.6 L962.30 485.4 L962.60 493.8 L963.00 503.5 L963.40 513.3 L963.50 515.8 L963.80 518.4 L964.20 524.4 L964.60 528.1 L965.00 534.0 L965.40 538.2 L965.50 538.9 L965.80 540.8 L966.20 545.0 L966.60 550.4 L967.00 552.2 L967.30 557.3 L967.40 558.3 L967.80 559.7 L968.20 563.4 L968.60 565.2 L969.00 570.2 L969.00 567.4 L969.40 572.4 L969.80 568.8 L970.20 572.3 L970.60 574.3 L971.00 576.7 L971.40 576.7 L971.50 576.9 L971.80 579.9 L972.20 579.8 L972.60 580.6 L973.00 581.5 L973.40 582.1 L973.50 579.6 L973.80 583.6 L974.20 579.8 L974.60 581.0 L975.00 583.7 L975.40 584.9 L975.80 585.5 L976.20 579.4 L976.50 581.6 L976.60 583.2 L977.00 585.5 L977.40 587.6 L977.80 581.0 L978.20 587.7 L978.60 585.5 L979.00 584.3 L979.40 580.6 L979.80 580.0 L980.20 587.5 L980.60 586.4 L981.00 587.5 L981.40 585.0 L981.80 585.5 L982.20 588.2 L982.60 582.5 L983.00 583.4 L983.40 587.5 L983.80 588.3 L984.20 590.9 L984.60 585.8 L985.00 585.8 L985.40 585.0 L985.60 587.2 L985.80 591.8 L986.20 586.9 L986.60 589.5 L987.00 582.7 L987.40 584.6 L987.80 587.5 L988.20 581.4 L988.60 588.9 L989.00 586.0 L989.40 585.8 L989.80 581.0 L990.20 588.6 L990.60 581.8 L991.00 580.7 L991.40 581.9 L991.80 585.6 L992.00 585.7 L992.20 589.8 L992.60 583.3 L993.00 582.0 L993.40 585.5 L993.80 583.8 L994.20 584.4 L994.60 583.9 L995.00 584.1 L995.40 582.9 L995.80 575.7 L996.00 579.2 L996.20 578.9 L996.60 581.4 L997.00 582.6 L997.40 582.0 L997.80 581.7 L998.20 582.7 L998.60 577.1 L999.00 583.7 L999.20 572.7 L999.40 582.1 L999.80 579.4 L1000.20 578.5 L1000.60 583.5 L1001.00 580.1 L1001.40 588.0 L1001.80 590.6 L1002.00 581.0 L1002.20 578.3 L1002.60 582.3 L1003.00 585.5 L1003.40 581.2 L1003.80 584.7 L1004.20 583.1 L1004.60 589.5 L1005.00 588.4 L1005.40 585.0 L1005.80 584.3 L1006.20 587.4 L1006.60 594.3 L1007.00 587.1 L1007.00 587.3 L1007.40 588.5 L1007.80 587.6 L1008.20 591.3 L1008.60 591.3 L1009.00 593.1 L1009.40 585.8 L1009.80 592.9 L1010.20 590.9 L1010.60 591.7 L1011.00 590.6 L1011.40 587.0 L1011.80 591.6 L1012.20 584.4 L1012.60 588.5 L1013.00 588.8 L1013.40 591.5 L1013.80 592.3 L1014.20 590.5 L1014.60 587.7 L1015.00 585.4 L1015.40 596.1 L1015.80 594.3 L1016.20 591.6 L1016.60 589.2 L1017.00 589.8 L1017.40 586.4 L1017.80 593.1 L1018.20 588.3 L1018.60 588.9 L1019.00 589.3 L1019.40 592.6 L1019.80 588.9 L1020.20 594.5 L1020.60 591.4 L1021.00 592.3 L1021.40 592.6 L1021.80 587.6 L1022.20 590.4 L1022.60 592.5 L1023.00 594.4 L1023.40 588.4 L1023.80 592.8 L1024.20 586.1 L1024.50 589.1 L1024.60 592.7 L1025.00 591.6 L1025.40 589.5 L1025.80 589.2 L1026.20 586.8 L1026.60 586.3 L1027.00 590.6 L1027.40 586.5 L1027.80 589.2 L1028.20 592.2 L1028.60 592.1 L1029.00 588.5 L1029.40 585.4 L1029.80 586.1 L1030.20 591.5 L1030.60 592.7 L1031.00 591.7 L1031.40 589.5 L1031.80 593.1 L1032.20 586.8 L1032.60 591.2 L1033.00 588.5 L1033.40 591.0 L1033.80 591.3 L1034.20 591.7 L1034.60 589.5 L1035.00 593.3 L1035.00 591.5 L1035.40 593.0 L1035.80 589.3 L1036.20 586.9 L1036.60 590.9 L1037.00 586.7 L1037.40 591.2 L1037.80 591.1 L1038.20 587.3 L1038.60 586.3 L1039.00 586.4 L1039.40 585.5 L1039.80 587.5 L1040.20 592.1 L1040.60 593.1 L1041.00 592.0 L1041.40 588.5 L1041.80 592.0 L1042.20 587.4 L1042.60 590.2 L1043.00 589.3 L1043.40 583.5 L1043.80 591.1 L1043.90 592.3 L1044.20 583.8 L1044.60 591.0 L1045.00 583.7 L1045.40 584.1 L1045.80 579.9 L1046.20 579.3 L1046.60 578.7 L1046.80 584.8 L1047.00 583.2 L1047.40 577.6 L1047.80 584.8 L1048.20 580.9 L1048.60 582.0 L1049.00 586.8 L1049.00 586.5 L1049.40 582.7 L1049.80 582.4 L1050.20 586.5 L1050.60 582.2 L1051.00 588.8 L1051.40 584.2 L1051.80 585.3 L1052.20 588.4 L1052.60 591.3 L1053.00 588.5 L1053.40 587.4 L1053.60 585.3 L1053.80 583.2 L1054.20 584.1 L1054.60 588.3 L1055.00 588.2 L1055.40 585.0 L1055.80 583.4 L1056.00 584.8 L1056.20 582.8 L1056.60 580.7 L1057.00 577.6 L1057.40 576.8 L1057.80 573.8 L1058.20 574.6 L1058.50 573.4 L1058.60 569.2 L1059.00 569.1 L1059.40 570.5 L1059.80 567.3 L1060.20 567.3 L1060.60 564.9 L1061.00 567.5 L1061.40 565.5 L1061.40 564.8 L1061.80 566.4 L1062.20 569.6 L1062.60 569.8 L1063.00 570.9 L1063.00 568.8 L1063.40 569.9 L1063.80 575.6 L1064.20 573.9 L1064.60 575.2 L1065.00 575.9 L1065.20 575.5 L1065.40 575.7 L1065.80 575.8 L1066.20 575.6 L1066.60 572.1 L1067.00 568.7 L1067.40 571.3 L1067.50 573.0 L1067.80 571.8 L1068.20 576.7 L1068.60 572.6 L1069.00 571.3 L1069.40 573.8 L1069.80 572.0 L1070.00 573.3 L1070.20 575.5 L1070.60 569.7 L1071.00 575.2 L1071.40 566.5 L1071.80 574.7 L1072.20 563.5 L1072.60 572.5 L1073.00 562.6 L1073.00 563.3 L1073.40 564.2 L1073.80 567.6 L1074.20 569.9 L1074.60 567.1 L1075.00 566.1 L1075.40 566.1 L1075.80 565.1 L1076.00 570.9 L1076.20 572.4 L1076.60 567.1 L1077.00 576.5 L1077.40 573.8 L1077.80 567.7 L1078.20 570.5 L1078.60 568.0 L1078.80 566.9 L1079.00 567.3 L1079.40 564.7 L1079.80 566.3 L1080.20 561.7 L1080.21 565.0 L1080.22 561.7 L1080.60 560.4 L1081.00 559.8 L1081.00 559.9 L1081.40 556.9 L1081.80 559.6 L1081.81 565.0 L1081.82 559.6 L1082.20 559.0 L1082.60 556.7 L1083.00 557.1 L1083.40 552.9 L1083.41 565.0 L1083.42 552.9 L1083.80 555.1 L1084.20 553.2 L1084.30 554.0 L1084.60 553.6 L1085.00 552.4 L1085.01 565.0 L1085.02 552.4 L1085.40 557.5 L1085.80 557.6 L1086.20 559.9 L1086.60 561.4 L1086.61 565.0 L1086.62 561.4 L1087.00 560.3 L1087.00 562.9 L1087.40 560.2 L1087.80 561.2 L1088.20 565.0 L1088.60 565.7 L1089.00 570.5 L1089.40 568.7 L1089.80 573.8 L1090.20 574.4 L1090.50 575.8 L1090.60 577.4 L1091.00 578.0 L1091.40 578.0 L1091.80 575.9 L1092.20 581.0 L1092.60 581.2 L1093.00 580.9 L1093.00 581.1 L1093.40 585.4 L1093.80 583.6 L1094.20 586.2 L1094.60 584.9 L1095.00 582.6 L1095.40 584.0 L1095.80 591.8 L1096.20 589.0 L1096.50 586.6 L1096.60 585.5 L1097.00 586.4 L1097.40 586.8 L1097.80 587.1 L1098.20 593.0 L1098.60 585.2 L1099.00 589.2 L1099.40 587.5 L1099.80 587.1 L1100.20 591.2 L1100.60 583.8 L1101.00 586.4 L1101.40 586.5 L1101.80 584.3 L1102.20 583.4 L1102.60 586.3 L1103.00 582.8 L1103.40 590.7 L1103.80 582.9 L1104.00 587.2 L1104.20 586.7 L1104.60 589.0 L1105.00 585.5 L1105.40 590.4 L1105.80 588.7 L1106.20 587.5 L1106.60 586.4 L1107.00 582.2 L1107.40 587.7 L1107.80 590.5 L1108.20 588.8 L1108.60 580.0 L1109.00 582.9 L1109.40 582.9 L1109.80 589.9 L1110.20 591.6 L1110.60 589.2 L1111.00 583.2 L1111.40 587.8 L1111.80 585.6 L1112.00 589.5 L1112.20 589.6 L1112.60 589.4 L1113.00 583.0 L1113.40 588.8 L1113.80 580.9 L1114.20 582.4 L1114.60 586.7 L1115.00 581.9 L1115.40 582.8 L1115.80 585.9 L1116.20 580.8 L1116.60 582.5 L1117.00 584.1 L1117.40 585.2 L1117.80 584.3 L1118.20 584.1 L1118.60 583.9 L1119.00 590.8 L1119.40 591.3 L1119.80 584.5 L1120.20 585.1 L1120.60 583.4 L1121.00 585.5 L1121.40 584.3 L1121.80 586.7 L1122.00 590.0 L1122.20 590.1 L1122.60 583.8 L1123.00 582.0 L1123.40 582.7 L1123.80 582.3 L1124.20 589.3 L1124.60 588.3 L1125.00 586.6 L1125.40 587.4 L1125.80 583.5 L1126.20 583.5 L1126.60 585.4 L1127.00 584.4 L1127.40 590.4 L1127.80 592.4 L1128.20 586.1 L1128.60 588.3 L1129.00 593.8 L1129.40 595.4 L1129.80 589.9 L1130.00 590.3 L1130.20 590.7 L1130.60 588.9 L1131.00 592.2 L1131.40 594.0 L1131.80 587.8 L1132.20 593.3 L1132.60 594.5 L1133.00 590.5 L1133.40 594.5 L1133.80 594.8 L1134.20 590.1 L1134.60 590.6 L1135.00 594.6 L1135.40 592.1 L1135.80 593.4 L1136.20 590.5 L1136.60 598.9 L1137.00 591.6 L1137.00 589.1 L1137.40 596.9 L1137.80 591.0 L1138.20 598.8 L1138.60 587.5 L1139.00 595.6 L1139.40 587.9 L1139.80 591.6 L1140.20 592.2 L1140.60 591.7 L1141.00 590.0 L1141.40 590.8 L1141.80 586.1 L1142.20 590.9 L1142.60 586.6 L1143.00 586.1 L1143.40 584.5 L1143.80 591.7 L1144.20 594.1 L1144.60 590.4 L1145.00 588.0 L1145.40 593.7 L1145.80 593.9 L1146.20 590.6 L1146.60 588.6 L1147.00 588.7 L1147.40 592.8 L1147.80 593.1 L1148.20 588.6 L1148.60 591.8 L1149.00 594.6 L1149.40 594.5 L1149.80 594.6 L1150.20 591.8 L1150.60 591.4 L1151.00 587.2 L1151.40 593.7 L1151.80 593.2 L1152.20 591.1 L1152.60 590.8 L1153.00 594.1 L1153.40 594.2 L1153.80 587.7 L1154.20 592.5 L1154.60 595.2 L1155.00 595.6 L1155.40 590.1 L1155.80 596.3 L1156.20 594.7 L1156.60 588.8 L1157.00 586.5 L1157.40 591.8 L1157.80 594.3 L1158.20 595.8 L1158.60 589.5 L1159.00 595.5 L1159.40 591.4 L1159.80 595.4 L1160.20 594.6 L1160.60 593.5 L1161.00 590.0 L1161.40 596.4 L1161.80 593.2 L1162.20 589.0 L1162.60 591.7 L1163.00 589.9 L1163.40 590.7 L1163.80 590.1 L1164.00 587.1 L1164.20 586.9 L1164.60 593.3 L1165.00 592.6 L1165.40 591.2 L1165.80 594.6 L1166.20 593.2 L1166.60 595.0 L1167.00 591.5 L1167.40 588.7 L1167.80 592.4 L1168.20 592.8 L1168.60 590.7 L1169.00 589.1 L1169.40 587.3 L1169.80 593.1 L1170.20 590.7 L1170.60 588.6 L1171.00 587.1 L1171.40 588.6 L1171.80 585.5 L1172.20 587.1 L1172.60 591.3 L1173.00 584.0 L1173.40 587.1 L1173.80 586.2 L1174.20 587.3 L1174.60 590.7 L1175.00 586.8 L1175.40 589.6 L1175.80 593.0 L1176.20 590.3 L1176.60 589.3 L1177.00 593.4 L1177.40 594.4 L1177.80 592.6 L1178.20 589.8 L1178.60 592.4 L1179.00 589.1 L1179.40 591.7 L1179.80 588.8 L1180.20 597.1 L1180.60 596.9 L1181.00 597.4 L1181.40 592.0 L1181.80 596.2 L1182.20 594.6 L1182.60 588.5 L1183.00 590.5 L1183.40 589.7 L1183.80 593.1 L1184.20 587.5 L1184.60 589.0 L1185.00 596.5 L1185.40 593.7 L1185.80 591.5 L1186.20 592.6 L1186.60 595.2 L1187.00 591.2 L1187.40 595.2 L1187.80 593.7 L1188.20 593.2 L1188.60 593.7 L1189.00 591.9 L1189.40 589.0 L1189.80 593.4 L1190.20 588.7 L1190.60 591.4 L1191.00 590.6 L1191.40 591.4 L1191.80 594.8 L1192.20 591.0 L1192.60 591.4 L1193.00 587.0 L1193.40 589.6 L1193.80 587.2 L1194.20 588.5 L1194.60 592.5 L1195.00 590.5 L1195.40 594.0 L1195.80 591.5 L1196.20 590.3 L1196.60 593.2 L1197.00 595.6 L1197.40 596.1 L1197.80 588.6 L1198.20 594.0 L1198.60 591.9 L1199.00 588.6 L1199.40 592.5 L1199.80 593.9 L1200.20 589.1 L1200.60 588.9 L1201.00 588.2 L1201.40 589.9 L1201.80 589.7 L1202.20 589.7 L1202.60 591.3 L1203.00 584.3 L1203.40 587.1 L1203.80 593.8 L1204.20 593.4 L1204.60 590.3 L1205.00 590.6 L1205.40 586.7 L1205.80 590.5 L1206.00 592.7 L1206.20 590.1 L1206.60 591.2 L1207.00 586.8 L1207.40 590.3 L1207.80 591.4 L1208.20 587.1 L1208.60 590.3 L1209.00 590.5 L1209.40 590.5 L1209.80 588.3 L1210.20 588.8 L1210.60 587.5 L1211.00 588.8 L1211.40 586.4 L1211.80 589.2 L1212.20 586.3 L1212.60 590.0 L1213.00 591.1 L1213.40 585.4 L1213.80 585.9 L1214.20 587.4 L1214.60 590.5 L1215.00 590.8 L1215.40 586.8 L1215.80 588.4 L1216.20 594.7 L1216.60 585.8 L1217.00 593.5 L1217.40 584.9 L1217.80 595.9 L1218.00 590.8 L1218.20 587.0 L1218.60 591.0 L1219.00 592.2 L1219.40 584.3 L1219.80 587.2 L1220.20 591.2 L1220.60 582.6 L1221.00 582.2 L1221.40 590.8 L1221.80 592.1 L1222.20 589.2 L1222.60 587.2 L1223.00 583.6 L1223.40 582.1 L1223.80 590.1 L1224.20 588.9 L1224.60 581.4 L1225.00 582.4 L1225.00 588.3 L1225.40 586.0 L1225.80 583.4 L1226.20 583.4 L1226.60 588.4 L1227.00 589.0 L1227.40 586.7 L1227.80 585.4 L1228.20 586.0 L1228.60 581.6 L1229.00 583.7 L1229.40 587.0 L1229.80 584.3 L1230.20 582.3 L1230.60 585.6 L1231.00 586.5 L1231.00 581.5 L1231.40 583.7 L1231.80 582.1 L1232.20 584.7 L1232.60 582.2 L1233.00 580.6 L1233.40 579.4 L1233.80 586.5 L1234.20 584.2 L1234.60 581.9 L1235.00 584.5 L1235.40 582.9 L1235.80 583.2 L1236.20 581.5 L1236.60 585.7 L1237.00 585.8 L1237.00 580.2 L1237.40 580.4 L1237.80 587.1 L1238.20 588.2 L1238.60 587.8 L1239.00 588.4 L1239.40 586.5 L1239.80 588.7 L1240.20 582.6 L1240.60 584.3 L1241.00 583.7 L1241.40 591.6 L1241.80 586.3 L1242.20 585.6 L1242.60 593.5 L1243.00 592.0 L1243.40 586.4 L1243.80 595.2 L1244.20 587.9 L1244.60 583.3 L1245.00 583.3 L1245.40 589.7 L1245.80 592.1 L1246.20 592.0 L1246.60 589.2 L1247.00 587.2 L1247.40 591.8 L1247.50 591.2 L1247.80 587.0 L1248.20 587.6 L1248.60 592.6 L1249.00 587.1 L1249.40 586.7 L1249.80 592.3 L1250.20 590.8 L1250.60 595.3 L1251.00 591.3 L1251.40 585.5 L1251.80 585.7 L1252.20 591.2 L1252.60 591.4 L1253.00 587.1 L1253.40 591.0 L1253.80 587.4 L1254.20 585.6 L1254.60 586.7 L1255.00 585.9 L1255.40 586.7 L1255.80 589.8 L1256.20 590.2 L1256.60 585.8 L1257.00 587.2 L1257.40 588.3 L1257.80 584.3 L1258.20 586.1 L1258.60 589.3 L1259.00 588.1 L1259.40 586.7 L1259.80 585.8 L1260.20 587.5 L1260.60 589.1 L1261.00 587.5 L1261.40 587.9 L1261.80 591.6 L1262.20 588.7 L1262.60 587.8 L1263.00 585.3 L1263.40 586.8 L1263.80 587.6 L1264.20 587.0 L1264.60 594.7 L1265.00 589.4 L1265.40 590.9 L1265.80 593.6 L1266.20 596.9 L1266.60 596.9 L1267.00 594.9 L1267.40 591.2 L1267.80 593.5 L1268.00 593.0 L1268.20 593.4 L1268.60 591.4 L1269.00 591.7 L1269.40 593.5 L1269.80 596.5 L1270.20 592.2 L1270.60 590.5 L1271.00 590.7 L1271.40 596.5 L1271.80 593.7 L1272.20 594.5 L1272.60 593.5 L1273.00 597.5 L1273.40 597.2 L1273.80 591.1 L1274.20 593.6 L1274.60 590.4 L1275.00 591.1 L1275.40 593.4 L1275.80 592.6 L1276.20 595.7 L1276.60 588.5 L1277.00 593.0 L1277.40 593.4 L1277.80 589.8 L1278.20 588.6 L1278.60 588.6 L1279.00 590.9 L1279.40 593.7 L1279.80 591.3 L1280.20 592.8 L1280.60 591.0 L1281.00 596.0 L1281.40 593.5 L1281.80 590.9 L1282.20 591.1 L1282.60 592.5 L1283.00 590.3 L1283.40 591.7 L1283.80 592.0 L1284.20 594.7 L1284.60 594.5 L1285.00 594.7 L1285.40 590.9 L1285.80 594.2 L1286.20 596.1 L1286.60 594.1 L1287.00 594.8 L1287.40 596.7 L1287.80 596.1 L1288.20 592.1 L1288.60 597.8 L1289.00 598.3 L1289.40 591.3 L1289.80 595.7 L1290.20 594.7 L1290.60 597.3 L1291.00 590.0 L1291.40 596.0 L1291.80 590.9 L1292.20 597.1 L1292.60 592.7 L1293.00 589.8 L1293.40 588.7 L1293.80 589.4 L1294.20 591.5 L1294.60 594.1 L1295.00 595.2 L1295.40 590.8 L1295.80 589.5 L1296.20 593.8 L1296.60 590.0 L1297.00 588.9 L1297.40 592.2 L1297.80 593.0 L1298.20 591.3 L1298.60 592.5 L1299.00 593.3 L1299.40 593.8 L1299.80 594.7 L1300.20 593.9 L1300.60 594.2 L1301.00 590.1 L1301.40 594.1 L1301.80 591.3 L1302.20 594.5 L1302.60 594.9 L1303.00 593.4 L1303.40 593.0 L1303.80 591.1 L1304.20 595.1 L1304.60 592.9 L1305.00 588.6 L1305.40 589.4 L1305.80 589.6 L1306.20 592.7 L1306.60 591.9 L1307.00 588.2 L1307.40 587.8 L1307.80 595.8 L1308.20 586.2 L1308.60 589.6 L1309.00 589.0 L1309.00 590.3" fill="none" stroke="#ff0000" stroke-width="4.2" stroke-linejoin="round" stroke-linecap="butt"/>
<path d="M126.20 1019.6 L126.60 1025.9 L127.00 1023.2 L127.40 1015.2 L127.80 1013.7 L128.20 1021.5 L128.60 1012.8 L129.00 1016.6 L129.00 1021.5 L129.40 1018.3 L129.80 1011.4 L130.20 1028.2 L130.60 1029.3 L131.00 1021.4 L131.00 1025.2 L131.40 1031.2 L131.80 1029.3 L132.20 1021.1 L132.60 1024.4 L133.00 1024.1 L133.40 1031.2 L133.80 1029.7 L134.20 1022.7 L134.60 1022.1 L135.00 1034.8 L135.00 1023.4 L135.40 1028.5 L135.80 1028.2 L136.20 1037.4 L136.60 1029.7 L137.00 1037.5 L137.40 1034.1 L137.80 1022.1 L138.20 1031.8 L138.60 1023.8 L139.00 1025.2 L139.40 1035.5 L139.80 1031.2 L140.20 1026.4 L140.60 1032.8 L141.00 1033.5 L141.40 1037.4 L141.80 1036.5 L142.20 1034.9 L142.60 1027.2 L143.00 1028.5 L143.40 1033.8 L143.80 1032.1 L144.00 1033.5 L144.20 1041.6 L144.60 1040.1 L145.00 1033.5 L145.40 1037.9 L145.80 1038.1 L146.20 1027.3 L146.60 1024.0 L147.00 1032.8 L147.40 1041.5 L147.80 1025.5 L148.20 1028.6 L148.60 1043.3 L149.00 1029.0 L149.40 1043.6 L149.80 1032.1 L150.20 1038.4 L150.60 1043.1 L151.00 1033.8 L151.40 1036.2 L151.80 1045.8 L152.00 1030.6 L152.20 1029.3 L152.60 1039.4 L153.00 1042.1 L153.40 1033.8 L153.80 1027.2 L154.20 1036.0 L154.60 1028.5 L155.00 1028.6 L155.40 1031.7 L155.80 1039.8 L156.20 1038.2 L156.60 1032.2 L157.00 1029.3 L157.40 1029.1 L157.80 1036.9 L158.20 1037.4 L158.60 1039.3 L159.00 1034.6 L159.40 1045.2 L159.80 1043.7 L160.00 1047.9 L160.20 1043.2 L160.60 1037.3 L161.00 1043.9 L161.40 1041.6 L161.80 1035.7 L162.20 1035.9 L162.60 1040.0 L163.00 1045.2 L163.40 1038.3 L163.80 1040.3 L164.20 1038.1 L164.60 1033.2 L165.00 1032.8 L165.40 1027.1 L165.80 1029.1 L166.00 1035.0 L166.20 1037.0 L166.60 1027.6 L167.00 1036.3 L167.40 1034.9 L167.80 1040.1 L168.20 1038.5 L168.60 1033.5 L169.00 1035.4 L169.40 1029.3 L169.80 1040.6 L170.00 1038.7 L170.20 1033.4 L170.60 1029.0 L171.00 1033.4 L171.40 1029.8 L171.80 1032.6 L172.20 1029.4 L172.50 1027.6 L172.60 1029.5 L173.00 1034.7 L173.40 1033.9 L173.80 1027.6 L174.20 1027.8 L174.60 1027.8 L175.00 1027.3 L175.20 1026.7 L175.40 1027.1 L175.80 1023.7 L176.20 1022.1 L176.60 1022.3 L177.00 1026.0 L177.40 1023.6 L177.60 1021.1 L177.80 992.6 L177.80 998.2 L178.20 997.2 L178.60 997.1 L179.00 994.9 L179.40 993.5 L179.40 993.5 L179.50 964.5 L179.51 993.0 L179.52 964.5 L179.80 962.8 L180.20 965.3 L180.60 965.1 L181.00 964.3 L181.01 993.0 L181.02 964.3 L181.10 964.0 L181.20 932.5 L181.40 930.5 L181.80 930.2 L182.20 931.9 L182.20 932.0 L182.30 915.0 L182.34 913.3 L182.35 993.0 L182.36 913.3 L182.38 915.0 L182.42 928.5 L182.60 925.9 L183.00 925.8 L183.40 926.1 L183.80 930.4 L183.81 993.0 L183.82 930.4 L184.20 928.0 L184.50 929.0 L184.60 1009.1 L184.60 1006.0 L185.00 1005.4 L185.40 1006.3 L185.80 1006.9 L186.20 1008.3 L186.50 1007.9 L186.60 1028.6 L186.60 1027.7 L187.00 1029.3 L187.40 1027.0 L187.80 1027.7 L188.20 1029.7 L188.50 1029.2 L188.60 1031.8 L189.00 1032.5 L189.40 1030.4 L189.80 1031.7 L190.20 1033.7 L190.50 1037.4 L190.60 1036.4 L191.00 1035.3 L191.40 1035.4 L191.80 1038.5 L192.20 1040.5 L192.60 1039.4 L193.00 1041.6 L193.40 1040.4 L193.80 1046.5 L194.00 1040.9 L194.20 1044.4 L194.60 1037.5 L195.00 1035.6 L195.40 1043.1 L195.80 1035.2 L196.20 1046.5 L196.60 1049.9 L197.00 1042.2 L197.40 1042.9 L197.80 1048.2 L198.20 1050.6 L198.40 1043.4 L198.60 1051.1 L199.00 1046.9 L199.40 1045.8 L199.80 1048.6 L200.20 1048.8 L200.60 1048.7 L201.00 1051.9 L201.40 1050.0 L201.80 1047.7 L202.20 1049.6 L202.60 1050.0 L203.00 1055.1 L203.40 1047.8 L203.80 1054.7 L204.20 1053.8 L204.60 1056.2 L205.00 1049.4 L205.40 1047.2 L205.80 1045.2 L206.20 1051.2 L206.60 1056.5 L207.00 1047.7 L207.40 1049.5 L207.80 1055.1 L208.20 1049.8 L208.60 1056.1 L209.00 1045.3 L209.40 1057.6 L209.80 1048.6 L210.20 1059.2 L210.60 1057.2 L211.00 1058.3 L211.40 1054.6 L211.80 1053.1 L212.20 1053.5 L212.60 1059.8 L213.00 1056.0 L213.40 1051.1 L213.80 1057.8 L214.20 1059.1 L214.60 1057.5 L215.00 1049.6 L215.40 1051.4 L215.80 1060.2 L216.20 1057.2 L216.60 1058.6 L217.00 1048.2 L217.40 1056.3 L217.80 1053.0 L218.20 1051.9 L218.60 1051.7 L219.00 1051.0 L219.40 1053.0 L219.80 1057.5 L220.20 1056.0 L220.60 1056.9 L220.80 1056.1 L221.00 1054.4 L221.40 1057.5 L221.80 1061.6 L222.20 1058.6 L222.60 1054.0 L223.00 1063.2 L223.40 1059.6 L223.80 1057.1 L224.20 1064.1 L224.60 1058.0 L225.00 1054.0 L225.40 1066.3 L225.80 1058.1 L226.20 1055.2 L226.60 1059.8 L227.00 1056.1 L227.40 1058.0 L227.80 1063.7 L228.20 1059.2 L228.60 1054.5 L229.00 1059.1 L229.40 1068.9 L229.80 1064.1 L230.20 1064.3 L230.60 1055.5 L231.00 1069.1 L231.40 1063.7 L231.80 1064.3 L232.20 1067.8 L232.60 1068.1 L233.00 1069.9 L233.40 1062.5 L233.80 1069.1 L234.20 1072.9 L234.60 1067.1 L235.00 1065.6 L235.40 1067.1 L235.80 1066.0 L236.20 1069.2 L236.50 1071.4 L236.60 1066.2 L237.00 1066.4 L237.40 1067.0 L237.80 1068.5 L238.20 1070.3 L238.60 1073.7 L239.00 1073.4 L239.40 1068.5 L239.80 1072.5 L240.20 1074.9 L240.60 1076.6 L241.00 1073.2 L241.40 1072.4 L241.80 1073.1 L242.20 1074.3 L242.60 1075.6 L243.00 1082.0 L243.40 1076.9 L243.80 1076.5 L244.20 1074.5 L244.60 1071.6 L245.00 1077.5 L245.40 1068.5 L245.80 1075.5 L246.20 1076.3 L246.60 1068.1 L247.00 1071.7 L247.40 1073.3 L247.80 1071.8 L248.20 1070.1 L248.60 1069.9 L249.00 1068.0 L249.40 1068.0 L249.80 1078.5 L250.20 1075.0 L250.60 1077.1 L251.00 1067.2 L251.40 1070.1 L251.80 1073.5 L252.20 1078.6 L252.60 1072.2 L253.00 1070.6 L253.40 1077.7 L253.80 1079.0 L254.20 1079.4 L254.40 1071.7 L254.60 1074.5 L255.00 1072.3 L255.40 1077.2 L255.80 1072.3 L256.20 1071.6 L256.60 1077.8 L257.00 1074.9 L257.40 1070.2 L257.80 1074.0 L258.20 1075.4 L258.60 1078.6 L259.00 1074.9 L259.40 1072.7 L259.80 1079.7 L260.20 1082.9 L260.60 1073.5 L261.00 1079.3 L261.40 1080.6 L261.80 1081.6 L262.20 1072.6 L262.60 1079.5 L263.00 1077.7 L263.40 1073.1 L263.80 1075.8 L264.20 1070.5 L264.60 1071.4 L265.00 1072.8 L265.40 1076.2 L265.80 1077.9 L266.20 1075.1 L266.60 1078.3 L267.00 1077.1 L267.40 1075.1 L267.80 1076.6 L268.20 1078.2 L268.60 1077.9 L269.00 1072.8 L269.40 1080.9 L269.80 1082.5 L270.20 1077.3 L270.60 1078.9 L271.00 1082.0 L271.40 1075.8 L271.80 1084.3 L272.20 1082.9 L272.40 1086.2 L272.60 1079.5 L273.00 1077.2 L273.40 1076.1 L273.80 1085.1 L274.20 1083.1 L274.60 1080.8 L275.00 1079.6 L275.40 1083.3 L275.80 1084.5 L276.20 1084.0 L276.60 1079.5 L277.00 1082.1 L277.40 1080.8 L277.80 1077.8 L278.20 1080.9 L278.60 1083.3 L279.00 1076.9 L279.40 1077.9 L279.80 1080.1 L280.20 1078.9 L280.60 1079.5 L281.00 1084.7 L281.40 1079.8 L281.80 1083.4 L282.20 1083.8 L282.60 1080.0 L283.00 1083.9 L283.40 1078.9 L283.80 1083.3 L284.20 1086.5 L284.60 1079.4 L285.00 1077.6 L285.40 1078.1 L285.80 1084.2 L286.20 1082.9 L286.60 1078.4 L287.00 1083.3 L287.40 1088.3 L287.80 1083.2 L288.20 1084.6 L288.60 1082.7 L289.00 1084.3 L289.40 1082.5 L289.80 1082.3 L290.20 1092.7 L290.30 1086.5 L290.60 1084.8 L291.00 1084.0 L291.40 1087.8 L291.80 1084.5 L292.20 1088.2 L292.60 1084.4 L293.00 1086.5 L293.40 1088.5 L293.80 1088.2 L294.20 1088.6 L294.60 1086.3 L295.00 1087.2 L295.40 1085.6 L295.80 1083.6 L296.20 1086.3 L296.60 1085.1 L297.00 1084.0 L297.40 1085.7 L297.80 1085.9 L298.20 1087.7 L298.60 1089.1 L299.00 1088.0 L299.40 1088.4 L299.80 1085.8 L300.20 1085.5 L300.60 1085.8 L301.00 1089.8 L301.40 1085.6 L301.80 1090.9 L302.20 1089.8 L302.60 1091.2 L303.00 1087.2 L303.40 1090.0 L303.80 1088.3 L304.20 1087.0 L304.60 1088.8 L305.00 1091.7 L305.40 1091.3 L305.80 1086.3 L306.20 1086.4 L306.60 1085.1 L307.00 1086.8 L307.40 1086.2 L307.80 1092.5 L308.20 1085.8 L308.60 1087.2 L309.00 1084.9 L309.40 1087.6 L309.80 1093.6 L310.20 1092.0 L310.40 1082.9 L310.60 1093.4 L311.00 1084.1 L311.40 1085.0 L311.80 1086.3 L312.20 1093.2 L312.60 1090.9 L313.00 1089.4 L313.40 1088.0 L313.80 1086.9 L314.20 1091.6 L314.60 1086.1 L315.00 1085.4 L315.40 1089.5 L315.80 1089.7 L316.20 1085.9 L316.60 1085.8 L317.00 1084.8 L317.40 1087.1 L317.80 1089.0 L318.20 1089.3 L318.60 1086.1 L319.00 1083.8 L319.40 1086.0 L319.80 1087.1 L320.20 1082.9 L320.60 1083.8 L321.00 1092.2 L321.40 1084.5 L321.80 1084.8 L322.20 1089.4 L322.60 1086.5 L323.00 1087.7 L323.40 1087.2 L323.80 1092.4 L324.20 1090.6 L324.60 1091.0 L325.00 1088.2 L325.40 1083.7 L325.80 1088.1 L326.20 1083.5 L326.60 1089.0 L327.00 1085.0 L327.40 1087.9 L327.80 1086.8 L328.20 1087.0 L328.60 1094.2 L329.00 1094.3 L329.40 1089.0 L329.80 1089.5 L330.20 1086.6 L330.60 1088.6 L331.00 1094.1 L331.40 1086.6 L331.80 1091.0 L332.20 1087.4 L332.60 1087.1 L332.80 1089.1 L333.00 1087.1 L333.40 1091.3 L333.80 1089.6 L334.20 1090.3 L334.60 1087.7 L335.00 1088.0 L335.40 1089.0 L335.80 1091.6 L336.20 1088.7 L336.60 1092.2 L337.00 1088.5 L337.40 1087.1 L337.80 1091.0 L338.20 1087.7 L338.60 1092.8 L339.00 1089.3 L339.40 1090.4 L339.80 1087.5 L340.20 1088.6 L340.60 1093.4 L341.00 1087.7 L341.40 1086.0 L341.80 1091.3 L342.20 1092.6 L342.60 1086.6 L343.00 1093.8 L343.40 1087.8 L343.80 1088.3 L344.20 1094.2 L344.60 1090.1 L345.00 1092.7 L345.40 1091.3 L345.80 1093.5 L346.20 1091.1 L346.60 1088.6 L347.00 1091.1 L347.40 1094.3 L347.80 1090.4 L348.20 1086.6 L348.60 1094.6 L349.00 1091.7 L349.40 1090.1 L349.80 1090.6 L350.20 1089.2 L350.60 1086.3 L351.00 1085.7 L351.40 1087.3 L351.80 1087.3 L352.20 1088.5 L352.60 1089.0 L353.00 1087.3 L353.40 1092.1 L353.80 1092.6 L354.20 1091.2 L354.60 1090.4 L355.00 1086.8 L355.40 1089.4 L355.80 1089.5 L356.20 1088.7 L356.60 1091.0 L357.00 1090.1 L357.40 1094.0 L357.80 1092.0 L358.20 1090.7 L358.60 1090.1 L359.00 1089.7 L359.40 1089.9 L359.80 1092.3 L360.20 1089.9 L360.60 1088.7 L361.00 1088.4 L361.40 1090.6 L361.80 1088.0 L362.20 1089.8 L362.60 1087.6 L363.00 1090.9 L363.40 1094.7 L363.80 1090.8 L364.20 1095.2 L364.60 1090.7 L365.00 1091.4 L365.40 1089.4 L365.80 1092.8 L366.20 1095.4 L366.50 1090.4 L366.60 1089.3 L367.00 1090.9 L367.40 1092.9 L367.80 1090.2 L368.20 1092.1 L368.60 1092.0 L369.00 1094.5 L369.40 1094.7 L369.80 1094.7 L370.20 1092.8 L370.60 1090.4 L371.00 1089.1 L371.40 1088.5 L371.80 1091.0 L372.20 1092.6 L372.60 1086.9 L373.00 1089.9 L373.40 1091.1 L373.80 1089.0 L374.20 1091.4 L374.60 1091.5 L375.00 1090.1 L375.40 1090.6 L375.80 1089.5 L376.20 1088.2 L376.60 1087.9 L377.00 1090.8 L377.40 1094.3 L377.80 1088.6 L378.20 1094.2 L378.60 1088.6 L379.00 1095.0 L379.40 1090.3 L379.80 1094.7 L380.20 1095.2 L380.60 1090.1 L381.00 1094.5 L381.40 1091.5 L381.80 1089.9 L382.20 1089.5 L382.60 1090.9 L383.00 1093.9 L383.40 1087.8 L383.80 1089.2 L384.20 1093.0 L384.60 1088.9 L385.00 1091.1 L385.40 1086.7 L385.80 1092.2 L386.20 1093.1 L386.60 1093.3 L387.00 1090.7 L387.40 1092.1 L387.80 1092.2 L388.20 1091.8 L388.60 1091.4 L389.00 1090.1 L389.40 1091.7 L389.80 1091.9 L390.20 1091.7 L390.60 1090.1 L391.00 1092.7 L391.40 1093.5 L391.80 1096.2 L392.20 1093.8 L392.60 1090.9 L393.00 1092.7 L393.40 1089.3 L393.80 1092.9 L394.20 1090.1 L394.60 1095.3 L395.00 1093.4 L395.40 1093.8 L395.80 1093.7 L396.20 1089.9 L396.60 1092.0 L397.00 1094.0 L397.40 1092.1 L397.80 1091.4 L398.20 1090.7 L398.60 1096.2 L399.00 1092.8 L399.40 1088.7 L399.80 1094.2 L400.20 1092.6 L400.60 1093.8 L401.00 1092.2 L401.40 1089.1 L401.80 1095.6 L402.20 1095.3 L402.60 1094.6 L403.00 1087.9 L403.40 1089.2 L403.80 1090.7 L404.20 1091.4 L404.60 1095.5 L405.00 1088.3 L405.40 1089.1 L405.80 1095.1 L406.20 1090.6 L406.60 1094.0 L407.00 1093.7 L407.40 1087.7 L407.80 1092.1 L408.20 1089.8 L408.60 1086.8 L409.00 1095.4 L409.40 1091.0 L409.80 1091.8 L410.20 1088.2 L410.60 1092.0 L411.00 1091.3 L411.00 1088.8 L411.40 1093.9 L411.80 1090.0 L412.20 1088.4 L412.60 1094.1 L413.00 1095.3 L413.40 1089.5 L413.80 1095.3 L414.20 1092.6 L414.60 1089.7 L415.00 1088.7 L415.40 1089.0 L415.80 1090.6 L416.20 1093.8 L416.60 1088.8 L417.00 1092.0 L417.40 1088.8 L417.80 1095.7 L418.20 1091.9 L418.60 1093.4 L419.00 1093.6 L419.40 1089.4 L419.80 1088.9 L420.20 1092.4 L420.60 1089.1 L421.00 1095.1 L421.40 1090.7 L421.80 1093.2 L422.20 1094.0 L422.60 1090.8 L423.00 1092.6 L423.40 1092.5 L423.80 1091.9 L424.20 1092.1 L424.60 1093.4 L425.00 1092.5 L425.40 1089.1 L425.80 1093.4 L426.20 1091.2 L426.60 1096.6 L427.00 1090.2 L427.40 1094.7 L427.80 1095.1 L428.20 1096.0 L428.60 1094.1 L429.00 1091.2 L429.40 1090.7 L429.80 1091.0 L430.20 1090.5 L430.60 1094.4 L431.00 1089.9 L431.40 1095.5 L431.80 1092.0 L432.20 1088.4 L432.60 1088.1 L433.00 1089.8 L433.40 1091.0 L433.80 1088.4 L434.20 1095.4 L434.60 1088.8 L435.00 1096.0 L435.40 1090.9 L435.80 1095.1 L436.20 1086.5 L436.60 1092.2 L437.00 1087.8 L437.40 1096.0 L437.80 1091.9 L438.20 1087.8 L438.60 1094.4 L439.00 1094.0 L439.40 1091.5 L439.80 1094.4 L440.00 1089.9 L440.20 1090.5 L440.60 1092.4 L441.00 1093.6 L441.40 1090.1 L441.80 1087.6 L442.20 1088.8 L442.60 1090.7 L443.00 1090.5 L443.40 1087.4 L443.80 1091.8 L444.20 1088.4 L444.60 1092.1 L445.00 1089.3 L445.40 1091.4 L445.80 1094.0 L446.20 1094.2 L446.60 1088.7 L447.00 1088.7 L447.40 1093.5 L447.80 1089.5 L448.00 1094.4 L448.20 1087.1 L448.60 1093.5 L449.00 1088.8 L449.40 1091.5 L449.80 1091.2 L450.20 1089.5 L450.60 1091.9 L451.00 1091.9 L451.40 1090.8 L451.80 1091.2 L452.20 1086.9 L452.50 1091.1 L452.60 1090.1 L453.00 1092.5 L453.40 1089.1 L453.80 1091.8 L454.20 1083.0 L454.60 1083.4 L455.00 1083.6 L455.40 1083.8 L455.80 1089.4 L456.20 1083.8 L456.60 1087.2 L457.00 1080.2 L457.00 1081.7 L457.40 1080.8 L457.80 1075.8 L458.20 1076.0 L458.60 1077.5 L459.00 1079.0 L459.40 1073.1 L459.80 1073.2 L460.00 1081.1 L460.20 1076.2 L460.60 1070.1 L461.00 1068.9 L461.40 1067.4 L461.80 1066.4 L462.20 1070.9 L462.60 1068.0 L463.00 1066.0 L463.40 1064.6 L463.80 1065.6 L463.80 1064.2 L464.20 1061.0 L464.60 1058.7 L465.00 1053.1 L465.40 1050.9 L465.80 1047.3 L465.90 1044.0 L466.10 1042.6 L466.20 1041.3 L466.60 1036.1 L467.00 1029.4 L467.40 1023.6 L467.50 1020.9 L467.70 1018.9 L467.80 1015.9 L468.20 1001.8 L468.60 988.4 L469.00 974.1 L469.30 965.0 L469.40 962.3 L469.50 960.0 L469.80 961.8 L470.20 963.0 L470.60 960.3 L470.80 960.0 L470.90 899.9 L470.94 889.0 L470.98 850.1 L470.99 886.0 L471.00 850.1 L471.00 846.5 L471.40 848.4 L471.80 846.0 L471.80 846.0 L471.90 759.0 L472.20 759.3 L472.60 759.0 L472.61 886.0 L472.62 759.0 L473.00 754.4 L473.40 754.1 L473.40 753.7 L473.80 757.7 L474.20 759.6 L474.21 886.0 L474.22 759.6 L474.60 759.8 L475.00 759.9 L475.10 759.0 L475.20 846.0 L475.40 847.3 L475.80 846.1 L475.81 886.0 L475.82 846.1 L476.20 845.9 L476.60 847.8 L477.00 850.0 L477.40 847.1 L477.41 886.0 L477.42 847.1 L477.80 849.6 L478.20 850.1 L478.50 850.0 L478.60 895.0 L478.60 895.0 L478.64 905.0 L478.68 1003.0 L479.00 1003.1 L479.40 1001.5 L479.50 1004.5 L479.70 1067.0 L479.80 1067.2 L480.20 1069.8 L480.60 1071.0 L481.00 1073.6 L481.40 1075.8 L481.80 1078.9 L481.80 1077.4 L482.20 1080.3 L482.60 1081.9 L483.00 1080.2 L483.40 1081.8 L483.80 1085.9 L484.20 1081.0 L484.60 1086.6 L485.00 1086.9 L485.40 1086.7 L485.60 1088.9 L485.80 1086.2 L486.20 1085.2 L486.60 1091.9 L487.00 1091.4 L487.40 1090.1 L487.80 1085.9 L488.20 1086.0 L488.60 1089.4 L489.00 1089.1 L489.40 1088.1 L489.80 1082.5 L490.20 1084.4 L490.60 1089.6 L491.00 1081.4 L491.40 1081.9 L491.80 1087.1 L492.20 1089.5 L492.60 1085.1 L493.00 1082.5 L493.40 1084.5 L493.80 1081.1 L494.20 1084.6 L494.60 1082.2 L495.00 1082.7 L495.00 1089.1 L495.40 1087.4 L495.80 1083.5 L496.20 1082.1 L496.60 1087.2 L497.00 1084.5 L497.40 1080.9 L497.80 1081.6 L498.20 1083.4 L498.60 1086.1 L499.00 1087.2 L499.40 1085.9 L499.80 1080.0 L500.20 1082.2 L500.60 1086.5 L501.00 1084.3 L501.40 1085.8 L501.80 1083.4 L502.20 1082.7 L502.60 1082.7 L503.00 1084.3 L503.00 1081.1 L503.40 1086.5 L503.80 1080.9 L504.20 1080.2 L504.60 1079.8 L505.00 1078.2 L505.40 1077.9 L505.40 1079.3 L505.80 1074.9 L506.20 1073.2 L506.60 1070.2 L506.80 1069.7 L507.00 1066.4 L507.40 1058.7 L507.80 1050.0 L507.81 1056.0 L507.82 1050.0 L507.80 1049.9 L508.20 1046.0 L508.60 1039.5 L508.90 1036.2 L509.00 1038.7 L509.40 1034.8 L509.41 1056.0 L509.42 1034.8 L509.80 1031.2 L509.90 1032.3 L510.20 1031.0 L510.60 1035.9 L510.60 1036.8 L511.00 1042.8 L511.01 1056.0 L511.02 1042.8 L511.40 1051.8 L511.40 1047.5 L511.80 1050.7 L512.20 1054.0 L512.30 1053.8 L512.60 1054.7 L513.00 1057.8 L513.40 1057.7 L513.60 1055.4 L513.80 1055.7 L514.20 1054.6 L514.60 1050.4 L514.61 1060.0 L514.62 1050.4 L515.00 1048.4 L515.00 1047.8 L515.40 1049.2 L515.80 1045.3 L516.20 1045.5 L516.21 1060.0 L516.22 1045.5 L516.50 1043.4 L516.60 1042.3 L517.00 1039.6 L517.40 1041.1 L517.80 1037.3 L517.81 1060.0 L517.82 1037.3 L518.20 1041.0 L518.60 1041.2 L518.60 1040.9 L519.00 1041.7 L519.40 1037.3 L519.41 1060.0 L519.42 1037.3 L519.80 1042.4 L520.20 1041.9 L520.60 1045.0 L521.00 1045.0 L521.01 1060.0 L521.02 1045.0 L521.00 1040.8 L521.40 1048.9 L521.80 1045.6 L522.20 1050.3 L522.60 1053.8 L522.61 1060.0 L522.62 1053.8 L523.00 1053.9 L523.00 1055.1 L523.40 1053.4 L523.80 1055.6 L524.20 1056.9 L524.60 1059.6 L525.00 1059.1 L525.40 1063.4 L525.50 1061.9 L525.80 1065.5 L526.20 1062.4 L526.60 1064.9 L527.00 1068.5 L527.40 1068.4 L527.80 1072.5 L528.00 1071.1 L528.20 1071.1 L528.60 1072.0 L529.00 1070.6 L529.40 1073.7 L529.80 1069.2 L530.20 1070.4 L530.60 1075.7 L531.00 1073.9 L531.00 1082.1 L531.40 1073.3 L531.80 1076.9 L532.20 1073.4 L532.60 1075.0 L533.00 1074.5 L533.00 1074.2 L533.40 1071.5 L533.80 1067.8 L534.20 1064.6 L534.40 1064.0 L534.60 1049.0 L535.00 1019.6 L535.00 1021.2 L535.40 1015.7 L535.41 1021.0 L535.42 1015.7 L535.40 1016.6 L535.80 999.5 L536.20 980.7 L536.20 982.6 L536.60 984.3 L536.80 979.6 L536.81 1021.0 L536.82 979.6 L537.00 970.6 L537.40 956.2 L537.40 955.5 L537.80 948.5 L538.20 949.3 L538.21 1021.0 L538.22 949.3 L538.50 949.4 L538.60 948.2 L539.00 947.3 L539.40 951.7 L539.80 951.1 L539.81 1021.0 L539.82 951.1 L539.80 952.2 L540.20 957.8 L540.60 962.2 L541.00 966.6 L541.40 972.2 L541.41 1021.0 L541.42 972.2 L541.80 978.0 L542.00 979.4 L542.20 983.9 L542.30 980.5 L542.60 999.3 L543.00 1022.4 L543.00 1024.4 L543.40 1025.3 L543.80 1029.8 L544.20 1030.3 L544.60 1035.0 L545.00 1034.1 L545.40 1035.2 L545.80 1039.0 L546.20 1042.1 L546.40 1044.7 L546.60 1046.1 L547.00 1049.9 L547.40 1056.6 L547.80 1059.8 L547.90 1060.9 L548.20 1064.1 L548.60 1065.2 L549.00 1068.2 L549.00 1065.6 L549.40 1069.4 L549.80 1066.9 L550.20 1064.8 L550.60 1070.8 L551.00 1070.1 L551.00 1059.3 L551.40 1067.9 L551.80 1064.3 L552.20 1065.2 L552.60 1066.1 L553.00 1064.3 L553.00 1064.3 L553.40 1065.0 L553.80 1067.5 L554.20 1070.8 L554.60 1070.9 L555.00 1073.2 L555.00 1072.7 L555.40 1075.7 L555.80 1077.2 L556.20 1078.0 L556.60 1079.8 L557.00 1084.1 L557.40 1084.7 L557.70 1087.5 L557.80 1085.3 L558.20 1088.2 L558.60 1088.1 L559.00 1084.2 L559.40 1089.9 L559.80 1089.4 L560.20 1090.7 L560.60 1085.4 L561.00 1088.0 L561.40 1085.5 L561.80 1091.0 L562.20 1090.2 L562.60 1084.5 L563.00 1087.1 L563.40 1090.0 L563.80 1084.2 L564.20 1083.2 L564.60 1085.4 L565.00 1089.5 L565.00 1083.9 L565.40 1089.0 L565.80 1081.6 L566.20 1088.6 L566.60 1085.8 L567.00 1085.5 L567.40 1088.8 L567.80 1085.4 L568.20 1087.5 L568.60 1084.2 L569.00 1088.5 L569.40 1084.7 L569.80 1083.7 L570.20 1086.9 L570.60 1085.7 L571.00 1084.5 L571.40 1089.6 L571.80 1085.2 L572.20 1083.9 L572.60 1084.2 L573.00 1085.3 L573.40 1087.0 L573.80 1091.4 L574.20 1092.6 L574.60 1091.1 L575.00 1089.1 L575.40 1083.4 L575.80 1088.8 L576.20 1088.2 L576.60 1086.6 L577.00 1084.9 L577.40 1086.9 L577.80 1084.1 L578.20 1088.7 L578.60 1083.1 L579.00 1087.6 L579.40 1084.2 L579.80 1087.6 L580.20 1085.3 L580.60 1085.6 L581.00 1085.5 L581.40 1085.4 L581.80 1089.2 L582.20 1085.4 L582.60 1085.9 L583.00 1091.3 L583.40 1086.8 L583.80 1083.2 L584.20 1091.2 L584.60 1091.1 L585.00 1090.9 L585.40 1086.4 L585.80 1087.5 L586.20 1081.8 L586.60 1088.2 L587.00 1085.5 L587.40 1087.4 L587.80 1084.5 L588.20 1088.0 L588.60 1085.8 L589.00 1091.7 L589.40 1085.6 L589.80 1091.4 L590.20 1088.3 L590.60 1087.6 L591.00 1090.0 L591.40 1086.0 L591.80 1087.8 L592.20 1089.3 L592.60 1086.7 L593.00 1090.0 L593.40 1090.0 L593.80 1086.8 L594.20 1083.7 L594.60 1085.1 L595.00 1088.4 L595.40 1088.1 L595.80 1086.4 L596.20 1088.1 L596.60 1084.3 L597.00 1088.3 L597.40 1085.3 L597.80 1085.5 L598.20 1084.8 L598.60 1086.3 L599.00 1084.3 L599.40 1084.9 L599.80 1087.0 L600.00 1086.6 L600.20 1084.5 L600.60 1089.9 L601.00 1085.8 L601.40 1086.1 L601.80 1082.9 L602.20 1091.8 L602.60 1085.1 L603.00 1089.0 L603.40 1087.6 L603.80 1088.7 L604.20 1080.6 L604.60 1085.9 L605.00 1082.9 L605.00 1083.1 L605.40 1079.5 L605.80 1082.9 L606.20 1081.5 L606.60 1078.0 L607.00 1084.3 L607.40 1082.2 L607.80 1088.1 L608.20 1085.6 L608.60 1084.7 L609.00 1079.4 L609.30 1079.0 L609.40 1086.9 L609.80 1085.7 L610.20 1079.4 L610.60 1082.6 L611.00 1080.4 L611.40 1087.0 L611.80 1087.1 L612.20 1078.6 L612.60 1081.2 L613.00 1086.0 L613.40 1080.6 L613.80 1081.9 L614.00 1084.5 L614.20 1084.5 L614.60 1085.4 L615.00 1085.8 L615.40 1086.8 L615.80 1086.1 L616.20 1084.1 L616.60 1082.7 L617.00 1086.5 L617.40 1087.1 L617.80 1088.3 L618.20 1091.0 L618.60 1087.4 L619.00 1084.4 L619.40 1083.4 L619.80 1091.2 L620.00 1091.4 L620.20 1089.7 L620.60 1084.0 L621.00 1089.5 L621.40 1087.5 L621.80 1090.3 L622.20 1083.7 L622.60 1085.1 L623.00 1086.5 L623.40 1089.5 L623.80 1084.2 L624.20 1085.5 L624.60 1084.7 L625.00 1088.9 L625.40 1088.2 L625.80 1084.4 L626.20 1084.1 L626.60 1082.4 L627.00 1089.0 L627.40 1081.8 L627.80 1086.1 L628.20 1089.6 L628.60 1085.8 L629.00 1087.7 L629.40 1086.7 L629.80 1084.1 L630.20 1084.8 L630.60 1091.1 L631.00 1091.9 L631.40 1089.2 L631.80 1085.5 L632.20 1086.5 L632.60 1086.5 L633.00 1084.7 L633.40 1084.2 L633.80 1087.1 L634.20 1085.4 L634.60 1088.9 L635.00 1090.1 L635.40 1086.5 L635.80 1087.9 L636.20 1084.3 L636.60 1087.8 L637.00 1087.1 L637.40 1088.5 L637.80 1084.5 L638.20 1085.3 L638.60 1089.0 L639.00 1086.2 L639.40 1087.0 L639.80 1085.7 L640.20 1085.6 L640.60 1086.6 L641.00 1085.6 L641.40 1091.3 L641.80 1088.2 L642.20 1087.8 L642.60 1089.2 L643.00 1086.1 L643.40 1091.1 L643.80 1085.8 L644.20 1084.1 L644.60 1090.5 L645.00 1086.9 L645.40 1083.1 L645.80 1087.5 L646.20 1085.5 L646.60 1085.7 L647.00 1086.3 L647.00 1086.4 L647.40 1084.1 L647.80 1083.7 L648.20 1082.1 L648.60 1083.8 L649.00 1082.4 L649.40 1086.1 L649.80 1083.4 L650.20 1084.4 L650.60 1083.8 L651.00 1085.0 L651.40 1088.8 L651.80 1084.7 L652.20 1082.4 L652.60 1082.5 L653.00 1082.8 L653.40 1087.4 L653.80 1086.2 L654.20 1079.9 L654.60 1081.8 L655.00 1081.6 L655.00 1082.1 L655.40 1079.6 L655.80 1085.4 L656.20 1078.4 L656.60 1075.1 L657.00 1082.0 L657.40 1082.5 L657.80 1082.4 L658.20 1083.9 L658.60 1083.0 L659.00 1079.6 L659.40 1074.8 L659.80 1072.6 L660.20 1082.5 L660.60 1070.7 L661.00 1077.1 L661.40 1080.0 L661.80 1078.3 L661.90 1070.0 L662.20 1075.4 L662.60 1072.4 L663.00 1072.0 L663.40 1077.8 L663.80 1079.1 L664.20 1077.3 L664.60 1079.7 L665.00 1073.1 L665.40 1074.4 L665.80 1076.0 L666.20 1076.6 L666.60 1077.9 L667.00 1079.6 L667.00 1079.1 L667.40 1079.5 L667.80 1077.7 L668.20 1080.8 L668.60 1083.6 L669.00 1086.4 L669.40 1084.9 L669.80 1085.8 L670.20 1081.3 L670.30 1085.4 L670.60 1084.6 L671.00 1085.6 L671.40 1087.4 L671.80 1085.4 L672.20 1087.1 L672.60 1087.9 L673.00 1084.8 L673.40 1087.7 L673.80 1086.0 L674.20 1080.5 L674.60 1079.7 L675.00 1082.9 L675.40 1078.9 L675.50 1082.6 L675.80 1080.3 L676.20 1077.9 L676.60 1077.9 L677.00 1077.5 L677.40 1074.6 L677.80 1074.8 L678.20 1069.3 L678.60 1071.2 L678.60 1066.5 L679.00 1072.8 L679.40 1073.9 L679.80 1070.0 L680.20 1078.9 L680.60 1076.8 L681.00 1077.8 L681.00 1079.1 L681.40 1082.5 L681.80 1084.7 L682.20 1078.3 L682.60 1079.3 L683.00 1078.6 L683.40 1081.8 L683.80 1077.4 L684.20 1078.8 L684.60 1080.7 L685.00 1073.2 L685.40 1073.7 L685.80 1078.3 L686.20 1074.5 L686.60 1076.5 L687.00 1077.2 L687.40 1075.8 L687.80 1085.2 L688.00 1077.8 L688.20 1081.9 L688.60 1078.4 L689.00 1076.9 L689.40 1084.8 L689.80 1071.8 L690.20 1072.6 L690.60 1084.0 L691.00 1082.0 L691.40 1071.4 L691.80 1071.1 L692.20 1074.2 L692.60 1078.2 L693.00 1080.1 L693.40 1079.0 L693.80 1077.8 L694.20 1078.1 L694.60 1072.0 L695.00 1071.1 L695.40 1073.3 L695.40 1070.3 L695.80 1069.8 L696.20 1074.8 L696.60 1071.9 L697.00 1079.3 L697.40 1073.4 L697.80 1072.7 L698.20 1079.6 L698.60 1079.2 L699.00 1074.9 L699.40 1080.3 L699.80 1072.6 L700.00 1083.9 L700.20 1083.1 L700.60 1073.3 L701.00 1077.5 L701.40 1073.2 L701.80 1075.2 L702.20 1071.9 L702.60 1073.9 L703.00 1079.7 L703.40 1075.3 L703.80 1073.4 L704.20 1076.1 L704.60 1074.1 L704.90 1071.7 L705.00 1073.5 L705.40 1072.0 L705.80 1070.6 L706.20 1071.9 L706.60 1068.2 L707.00 1067.7 L707.40 1064.4 L707.80 1065.3 L708.00 1062.7 L708.20 1060.4 L708.60 1058.5 L709.00 1059.1 L709.40 1054.8 L709.80 1051.9 L710.20 1052.7 L710.60 1052.6 L711.00 1050.5 L711.00 1047.4 L711.40 1046.4 L711.80 1044.9 L712.20 1047.1 L712.60 1045.2 L713.00 1044.1 L713.30 1041.5 L713.40 1041.3 L713.80 1041.5 L714.20 1043.8 L714.60 1041.8 L715.00 1045.2 L715.40 1045.5 L715.80 1042.6 L716.20 1047.1 L716.60 1043.9 L717.00 1041.4 L717.00 1054.0 L717.40 1047.2 L717.80 1046.0 L718.20 1052.6 L718.60 1051.3 L719.00 1048.9 L719.40 1047.9 L719.80 1055.8 L720.20 1052.5 L720.60 1053.8 L721.00 1041.8 L721.40 1051.1 L721.60 1049.0 L721.80 1057.1 L722.20 1054.9 L722.60 1061.6 L723.00 1062.0 L723.40 1056.7 L723.80 1061.6 L724.20 1054.9 L724.60 1056.9 L725.00 1067.0 L725.40 1063.5 L725.80 1068.0 L726.00 1069.6 L726.20 1059.6 L726.60 1058.5 L727.00 1067.5 L727.40 1070.0 L727.80 1069.4 L728.20 1066.1 L728.60 1065.0 L729.00 1068.3 L729.40 1069.8 L729.80 1065.2 L730.20 1072.4 L730.60 1069.9 L731.00 1074.2 L731.20 1075.6 L731.40 1078.7 L731.80 1076.4 L732.20 1079.9 L732.60 1080.0 L733.00 1079.0 L733.40 1078.9 L733.80 1076.4 L734.20 1081.6 L734.60 1077.3 L735.00 1077.8 L735.40 1073.5 L735.80 1077.2 L736.20 1079.6 L736.60 1080.8 L737.00 1082.7 L737.40 1079.7 L737.80 1079.2 L738.20 1077.5 L738.40 1079.8 L738.60 1079.9 L739.00 1075.7 L739.40 1074.9 L739.80 1075.3 L740.20 1074.8 L740.60 1077.4 L741.00 1075.5 L741.40 1071.8 L741.80 1072.5 L742.00 1072.1 L742.20 1073.5 L742.60 1068.6 L743.00 1067.7 L743.40 1067.9 L743.80 1064.5 L744.20 1063.6 L744.60 1062.2 L745.00 1063.0 L745.40 1056.8 L745.50 1061.7 L745.80 1060.2 L746.20 1054.0 L746.60 1052.2 L747.00 1053.8 L747.40 1052.0 L747.80 1050.6 L747.90 1047.3 L748.20 1050.0 L748.60 1049.4 L749.00 1053.5 L749.40 1057.9 L749.80 1059.9 L750.20 1060.1 L750.50 1062.0 L750.60 1060.1 L751.00 1061.4 L751.40 1066.1 L751.80 1064.0 L752.20 1065.7 L752.60 1065.2 L753.00 1069.9 L753.40 1070.8 L753.80 1071.7 L754.20 1070.4 L754.60 1074.3 L755.00 1073.6 L755.10 1077.8 L755.40 1076.4 L755.80 1078.1 L756.20 1075.5 L756.60 1076.3 L757.00 1076.1 L757.40 1078.9 L757.80 1075.4 L758.20 1079.9 L758.60 1083.5 L759.00 1085.0 L759.40 1079.3 L759.80 1082.2 L760.20 1080.2 L760.60 1082.8 L761.00 1076.2 L761.40 1075.7 L761.80 1081.7 L762.20 1077.0 L762.60 1075.4 L763.00 1076.6 L763.40 1078.9 L763.80 1086.0 L764.20 1080.3 L764.60 1079.7 L764.70 1086.6 L765.00 1086.7 L765.40 1084.0 L765.80 1083.2 L766.20 1083.5 L766.60 1081.6 L767.00 1080.1 L767.40 1082.7 L767.80 1083.8 L768.20 1074.1 L768.60 1078.5 L769.00 1075.4 L769.40 1074.7 L769.80 1077.7 L770.00 1078.8 L770.20 1072.6 L770.60 1078.0 L771.00 1069.2 L771.40 1073.5 L771.80 1072.4 L772.20 1072.5 L772.60 1074.9 L773.00 1069.3 L773.40 1068.5 L773.80 1071.8 L774.20 1076.5 L774.60 1067.4 L775.00 1075.3 L775.40 1069.0 L775.80 1074.9 L776.20 1066.3 L776.60 1074.4 L776.60 1075.3 L777.00 1073.2 L777.40 1078.4 L777.80 1068.2 L778.20 1071.8 L778.60 1077.0 L779.00 1075.2 L779.40 1075.6 L779.80 1078.6 L780.20 1069.0 L780.60 1074.1 L781.00 1073.0 L781.00 1079.7 L781.40 1076.3 L781.80 1077.9 L782.20 1079.7 L782.60 1077.0 L783.00 1079.9 L783.40 1083.2 L783.80 1080.5 L784.20 1083.6 L784.60 1077.2 L785.00 1085.5 L785.40 1084.4 L785.80 1079.8 L786.20 1081.9 L786.60 1087.7 L787.00 1083.7 L787.40 1086.8 L787.80 1083.2 L788.20 1087.2 L788.60 1083.1 L788.60 1088.5 L789.00 1081.8 L789.40 1083.4 L789.80 1083.5 L790.20 1081.4 L790.60 1079.7 L791.00 1080.4 L791.40 1085.1 L791.80 1077.6 L792.20 1082.7 L792.60 1079.8 L793.00 1079.9 L793.40 1081.4 L793.80 1085.6 L794.20 1083.0 L794.60 1078.4 L795.00 1078.1 L795.00 1076.1 L795.40 1077.9 L795.80 1082.0 L796.20 1082.8 L796.60 1077.7 L797.00 1074.7 L797.40 1076.3 L797.80 1079.2 L798.20 1078.0 L798.60 1078.4 L799.00 1073.6 L799.40 1072.7 L799.80 1075.5 L800.20 1082.2 L800.60 1080.8 L801.00 1076.7 L801.40 1074.6 L801.80 1074.1 L802.20 1076.9 L802.60 1081.6 L802.90 1078.8 L803.00 1084.7 L803.40 1075.6 L803.80 1078.4 L804.20 1074.8 L804.60 1078.4 L805.00 1084.2 L805.40 1081.9 L805.80 1081.4 L806.20 1077.8 L806.60 1082.9 L807.00 1078.4 L807.40 1077.2 L807.80 1082.0 L808.20 1083.1 L808.60 1080.8 L809.00 1079.1 L809.40 1080.0 L809.80 1073.2 L810.20 1070.8 L810.60 1078.3 L811.00 1074.8 L811.40 1078.1 L811.80 1072.2 L812.20 1069.1 L812.60 1078.6 L813.00 1072.9 L813.40 1074.5 L813.80 1078.9 L814.20 1075.3 L814.60 1077.5 L815.00 1078.5 L815.00 1068.5 L815.40 1079.9 L815.80 1076.5 L816.20 1079.9 L816.60 1080.7 L817.00 1081.4 L817.40 1074.6 L817.80 1069.7 L818.20 1075.5 L818.60 1069.4 L819.00 1072.3 L819.40 1079.2 L819.80 1073.0 L820.20 1071.2 L820.60 1078.4 L821.00 1077.4 L821.40 1069.5 L821.80 1072.5 L822.20 1070.3 L822.60 1078.2 L823.00 1075.7 L823.40 1076.3 L823.80 1070.0 L824.20 1078.0 L824.60 1078.7 L825.00 1069.8 L825.40 1077.1 L825.80 1080.2 L826.20 1079.3 L826.60 1075.8 L826.80 1073.9 L827.00 1076.4 L827.40 1075.8 L827.80 1078.9 L828.20 1072.4 L828.60 1076.3 L829.00 1068.5 L829.40 1071.6 L829.80 1076.8 L830.20 1072.8 L830.60 1070.8 L831.00 1071.8 L831.40 1080.8 L831.80 1078.8 L832.20 1078.3 L832.60 1080.0 L833.00 1079.1 L833.40 1076.2 L833.80 1082.2 L834.20 1080.5 L834.60 1080.8 L835.00 1075.0 L835.40 1083.3 L835.80 1076.1 L836.20 1075.2 L836.60 1075.3 L837.00 1078.7 L837.40 1077.9 L837.80 1084.8 L838.00 1081.3 L838.20 1082.3 L838.60 1078.9 L839.00 1080.6 L839.40 1075.1 L839.80 1081.4 L840.20 1085.0 L840.60 1076.2 L841.00 1080.3 L841.40 1078.7 L841.80 1082.0 L842.20 1077.4 L842.60 1083.5 L843.00 1082.6 L843.40 1079.2 L843.80 1086.8 L844.20 1087.6 L844.60 1086.4 L845.00 1087.4 L845.40 1088.0 L845.80 1081.2 L845.90 1081.0 L846.20 1081.3 L846.60 1080.6 L847.00 1083.1 L847.40 1085.9 L847.80 1083.5 L848.20 1076.7 L848.60 1082.6 L849.00 1083.4 L849.40 1076.8 L849.80 1076.8 L850.20 1080.8 L850.60 1076.7 L851.00 1081.3 L851.40 1080.1 L851.70 1081.4 L851.80 1083.5 L852.20 1082.3 L852.60 1081.2 L853.00 1076.7 L853.40 1080.6 L853.80 1073.5 L854.20 1080.5 L854.60 1080.6 L855.00 1079.0 L855.40 1080.1 L855.80 1076.9 L856.20 1078.8 L856.60 1077.4 L857.00 1080.9 L857.40 1076.9 L857.80 1074.0 L858.00 1074.7 L858.20 1079.3 L858.60 1073.6 L859.00 1076.3 L859.40 1070.7 L859.80 1070.8 L860.20 1071.7 L860.60 1072.1 L861.00 1077.2 L861.40 1075.0 L861.40 1073.0 L861.80 1071.9 L862.20 1073.3 L862.60 1077.4 L863.00 1079.1 L863.40 1069.3 L863.80 1077.0 L864.20 1075.4 L864.60 1074.3 L865.00 1069.7 L865.40 1075.5 L865.80 1079.5 L866.20 1071.5 L866.60 1076.2 L867.00 1077.6 L867.40 1074.9 L867.80 1077.3 L868.20 1078.2 L868.60 1069.6 L869.00 1071.4 L869.40 1070.8 L869.80 1068.4 L870.20 1066.2 L870.60 1066.1 L871.00 1072.8 L871.40 1072.1 L871.80 1073.9 L872.20 1066.3 L872.60 1071.6 L873.00 1066.4 L873.40 1064.0 L873.80 1068.7 L874.20 1064.0 L874.60 1071.4 L875.00 1071.4 L875.40 1072.3 L875.80 1069.4 L876.20 1073.5 L876.60 1068.9 L877.00 1067.7 L877.40 1076.1 L877.80 1067.2 L878.20 1076.2 L878.60 1067.4 L878.80 1068.8 L879.00 1068.7 L879.40 1070.8 L879.80 1067.8 L880.20 1067.8 L880.50 1067.5 L880.60 1066.2 L881.00 1064.2 L881.40 1065.0 L881.80 1061.1 L882.20 1059.0 L882.30 1059.8 L882.60 1053.8 L883.00 1046.2 L883.30 1039.9 L883.31 1043.0 L883.32 1039.9 L883.40 1036.9 L883.80 1024.1 L884.20 1010.7 L884.30 1008.1 L884.60 1004.1 L884.61 1043.0 L884.62 1004.1 L885.00 1001.2 L885.30 999.0 L885.40 999.1 L885.80 998.6 L886.20 993.0 L886.21 1043.0 L886.22 993.0 L886.60 999.0 L887.00 994.9 L887.40 992.8 L887.40 994.3 L887.80 996.8 L887.81 1043.0 L887.82 996.8 L888.00 996.4 L888.20 999.2 L888.60 1007.0 L889.00 1011.6 L889.00 1011.5 L889.40 1022.1 L889.41 1043.0 L889.42 1022.1 L889.80 1031.5 L890.20 1042.9 L890.20 1040.5 L890.60 1044.7 L891.00 1049.7 L891.40 1053.1 L891.80 1058.5 L892.00 1061.8 L892.20 1061.8 L892.60 1061.7 L893.00 1064.6 L893.40 1062.6 L893.80 1066.3 L894.20 1069.1 L894.40 1070.6 L894.60 1066.6 L895.00 1064.6 L895.40 1066.6 L895.80 1067.2 L896.20 1061.3 L896.50 1061.1 L896.60 1060.0 L897.00 1055.8 L897.40 1050.8 L897.80 1046.4 L898.20 1041.2 L898.20 1040.2 L898.60 1035.9 L899.00 1030.6 L899.40 1027.6 L899.80 1023.3 L899.81 1026.0 L899.82 1023.3 L899.80 1023.1 L900.20 1019.7 L900.60 1015.2 L901.00 1012.6 L901.20 1008.3 L901.21 1026.0 L901.22 1008.3 L901.40 1008.3 L901.80 1010.7 L902.20 1010.8 L902.50 1011.5 L902.60 1010.5 L902.61 1026.0 L902.62 1010.5 L903.00 1009.2 L903.40 1009.1 L903.80 1013.1 L904.20 1013.9 L904.21 1026.0 L904.22 1013.9 L904.50 1012.3 L904.60 1015.4 L905.00 1014.2 L905.40 1013.3 L905.80 1016.8 L905.81 1026.0 L905.82 1016.8 L906.20 1013.7 L906.60 1016.3 L906.60 1017.2 L907.00 1011.1 L907.40 1007.9 L907.40 1007.7 L907.80 981.4 L907.90 974.9 L908.10 930.2 L908.11 967.6 L908.12 930.2 L908.20 929.1 L908.60 924.0 L909.00 918.0 L909.20 915.1 L909.40 917.5 L909.41 967.6 L909.42 917.5 L909.80 914.3 L910.20 912.2 L910.20 910.2 L910.60 912.7 L910.80 913.8 L910.81 967.6 L910.82 913.8 L911.00 914.9 L911.40 920.0 L911.80 922.3 L912.00 925.8 L912.20 921.2 L912.21 967.6 L912.22 921.2 L912.60 922.8 L913.00 929.6 L913.40 928.1 L913.40 928.1 L913.80 944.6 L913.81 967.6 L913.82 944.6 L914.20 960.8 L914.30 965.3 L914.60 969.0 L915.00 975.9 L915.40 981.4 L915.60 985.8 L915.80 987.8 L916.20 993.6 L916.60 999.2 L917.00 1006.4 L917.40 1010.9 L917.70 1017.6 L917.80 1017.7 L918.20 1021.9 L918.60 1025.1 L919.00 1030.2 L919.40 1036.4 L919.50 1037.6 L919.80 1039.2 L920.20 1044.5 L920.60 1049.7 L921.00 1053.8 L921.30 1054.7 L921.40 1055.8 L921.80 1058.6 L922.20 1063.9 L922.50 1066.2 L922.60 1066.4 L923.00 1063.0 L923.40 1070.3 L923.80 1069.9 L924.20 1062.9 L924.60 1068.8 L925.00 1063.8 L925.00 1071.9 L925.40 1071.8 L925.80 1065.8 L926.20 1073.5 L926.60 1074.2 L927.00 1066.9 L927.40 1070.2 L927.80 1072.9 L928.20 1066.4 L928.30 1072.6 L928.60 1071.2 L929.00 1068.6 L929.40 1072.8 L929.80 1072.3 L930.20 1069.1 L930.60 1072.7 L931.00 1065.0 L931.40 1069.1 L931.80 1071.8 L932.20 1075.6 L932.60 1074.0 L933.00 1065.6 L933.00 1075.5 L933.40 1070.5 L933.80 1071.8 L934.20 1072.0 L934.60 1072.2 L935.00 1065.9 L935.40 1074.4 L935.80 1072.1 L936.20 1064.7 L936.60 1071.1 L937.00 1065.5 L937.40 1066.6 L937.80 1069.8 L938.20 1057.0 L938.60 1064.9 L939.00 1059.0 L939.00 1064.1 L939.40 1057.2 L939.80 1065.2 L940.20 1055.6 L940.60 1060.9 L941.00 1058.7 L941.40 1060.6 L941.80 1059.8 L942.20 1059.7 L942.60 1055.0 L943.00 1056.5 L943.00 1055.3 L943.40 1052.5 L943.80 1053.1 L944.20 1049.4 L944.60 1048.1 L945.00 1047.0 L945.40 1048.8 L945.80 1045.6 L945.80 1045.0 L946.20 1040.0 L946.60 1033.9 L947.00 1028.3 L947.40 1021.9 L947.80 1017.4 L947.80 1017.7 L948.20 1013.2 L948.60 1006.9 L949.00 1002.6 L949.40 998.7 L949.80 995.8 L950.20 990.2 L950.50 987.1 L950.60 984.9 L951.00 975.4 L951.40 965.9 L951.60 962.5 L951.80 959.8 L952.20 959.6 L952.60 957.6 L952.60 952.6 L952.61 956.0 L952.62 952.6 L953.00 955.9 L953.40 955.3 L953.80 947.8 L954.00 950.5 L954.01 956.0 L954.02 950.5 L954.20 944.5 L954.60 933.0 L954.60 931.0 L955.00 925.5 L955.40 920.4 L955.41 956.0 L955.42 920.4 L955.80 915.7 L955.80 917.4 L956.20 916.0 L956.60 911.1 L957.00 907.6 L957.01 956.0 L957.02 907.6 L957.40 911.3 L957.80 906.1 L957.80 908.5 L958.20 907.0 L958.60 912.8 L958.61 956.0 L958.62 912.8 L958.60 912.3 L959.00 921.8 L959.40 935.6 L959.40 935.1 L959.80 930.3 L960.20 932.0 L960.21 956.0 L960.22 932.0 L960.60 932.8 L961.00 933.9 L961.30 934.6 L961.40 939.1 L961.80 954.7 L962.20 970.1 L962.40 978.0 L962.60 982.5 L963.00 989.6 L963.40 998.1 L963.80 1005.7 L964.20 1014.1 L964.50 1020.6 L964.60 1021.8 L965.00 1024.5 L965.40 1030.8 L965.80 1033.9 L966.20 1037.6 L966.60 1043.6 L966.80 1045.3 L967.00 1045.9 L967.40 1047.5 L967.80 1052.6 L968.20 1055.9 L968.60 1059.6 L969.00 1061.0 L969.00 1059.4 L969.40 1063.4 L969.80 1062.4 L970.20 1067.1 L970.50 1067.5 L970.60 1069.1 L971.00 1067.8 L971.40 1067.9 L971.80 1073.1 L972.20 1066.7 L972.60 1070.6 L973.00 1070.3 L973.00 1072.5 L973.40 1078.2 L973.80 1073.9 L974.20 1075.9 L974.60 1076.6 L975.00 1073.6 L975.40 1076.2 L975.80 1079.0 L975.90 1078.1 L976.20 1079.9 L976.60 1080.4 L977.00 1076.4 L977.40 1077.8 L977.80 1076.5 L978.20 1077.6 L978.60 1079.7 L979.00 1078.1 L979.40 1085.9 L979.80 1079.3 L980.20 1084.2 L980.60 1083.8 L981.00 1082.7 L981.40 1082.3 L981.80 1082.6 L982.20 1081.2 L982.60 1081.6 L983.00 1083.0 L983.40 1082.6 L983.70 1084.7 L983.80 1083.0 L984.20 1080.5 L984.60 1079.5 L985.00 1085.0 L985.40 1083.4 L985.80 1081.8 L986.20 1084.5 L986.60 1082.1 L987.00 1082.5 L987.40 1079.4 L987.80 1080.5 L988.20 1078.5 L988.60 1079.9 L989.00 1078.8 L989.40 1077.6 L989.80 1079.9 L990.00 1078.5 L990.20 1080.1 L990.60 1074.1 L991.00 1072.9 L991.40 1071.5 L991.80 1074.5 L992.20 1072.2 L992.60 1070.4 L993.00 1075.2 L993.40 1077.1 L993.80 1071.5 L994.00 1066.7 L994.20 1075.4 L994.60 1071.3 L995.00 1068.4 L995.40 1071.1 L995.80 1073.7 L996.20 1069.4 L996.60 1069.8 L997.00 1073.5 L997.40 1066.9 L997.80 1067.0 L998.20 1063.4 L998.30 1064.4 L998.60 1069.8 L999.00 1066.7 L999.40 1066.8 L999.80 1075.8 L1000.20 1068.1 L1000.60 1071.9 L1001.00 1071.3 L1001.40 1065.5 L1001.80 1067.4 L1002.00 1072.4 L1002.20 1075.7 L1002.60 1075.5 L1003.00 1068.1 L1003.40 1072.5 L1003.80 1077.4 L1004.20 1070.9 L1004.60 1075.5 L1005.00 1073.9 L1005.40 1073.0 L1005.80 1080.9 L1006.20 1073.2 L1006.60 1074.7 L1007.00 1077.6 L1007.40 1083.3 L1007.80 1086.9 L1008.20 1079.1 L1008.60 1080.3 L1008.90 1079.2 L1009.00 1085.6 L1009.40 1080.4 L1009.80 1082.7 L1010.20 1082.7 L1010.60 1081.8 L1011.00 1084.4 L1011.40 1082.6 L1011.80 1081.7 L1012.20 1078.9 L1012.60 1077.8 L1013.00 1084.5 L1013.40 1086.4 L1013.80 1085.3 L1014.20 1079.9 L1014.60 1084.5 L1015.00 1084.3 L1015.40 1087.0 L1015.80 1080.5 L1016.20 1078.8 L1016.60 1083.5 L1017.00 1082.3 L1017.40 1079.2 L1017.80 1081.5 L1018.20 1081.1 L1018.60 1085.2 L1019.00 1084.4 L1019.40 1086.7 L1019.80 1083.5 L1020.20 1087.8 L1020.60 1085.4 L1021.00 1089.5 L1021.40 1088.8 L1021.80 1081.7 L1022.20 1083.5 L1022.60 1087.9 L1023.00 1080.3 L1023.40 1084.7 L1023.80 1085.9 L1024.20 1084.6 L1024.50 1085.0 L1024.60 1086.0 L1025.00 1088.7 L1025.40 1082.2 L1025.80 1086.4 L1026.20 1087.8 L1026.60 1086.0 L1027.00 1087.5 L1027.40 1081.7 L1027.80 1085.4 L1028.20 1080.5 L1028.60 1080.3 L1029.00 1082.0 L1029.40 1081.3 L1029.80 1083.6 L1030.20 1084.5 L1030.60 1084.7 L1031.00 1077.0 L1031.40 1080.7 L1031.80 1081.3 L1032.20 1082.4 L1032.60 1082.0 L1033.00 1076.5 L1033.40 1083.3 L1033.80 1081.8 L1034.20 1083.0 L1034.60 1077.9 L1035.00 1080.4 L1035.00 1077.9 L1035.40 1078.6 L1035.80 1077.2 L1036.20 1082.2 L1036.60 1076.5 L1037.00 1078.8 L1037.40 1081.1 L1037.80 1082.9 L1038.20 1075.1 L1038.60 1078.2 L1039.00 1080.0 L1039.40 1074.7 L1039.80 1078.8 L1040.20 1083.1 L1040.60 1074.2 L1041.00 1076.9 L1041.40 1073.3 L1041.80 1071.1 L1042.20 1074.3 L1042.60 1074.5 L1043.00 1075.0 L1043.40 1074.8 L1043.80 1069.8 L1043.90 1078.6 L1044.20 1075.4 L1044.60 1070.4 L1045.00 1078.1 L1045.40 1075.0 L1045.80 1077.5 L1046.20 1073.3 L1046.60 1079.2 L1047.00 1080.4 L1047.40 1074.3 L1047.80 1079.1 L1048.20 1077.7 L1048.60 1079.1 L1049.00 1077.3 L1049.40 1081.6 L1049.80 1074.4 L1050.20 1073.5 L1050.60 1080.9 L1051.00 1081.4 L1051.40 1073.4 L1051.80 1076.8 L1052.20 1076.9 L1052.60 1084.1 L1053.00 1073.7 L1053.40 1080.3 L1053.60 1083.7 L1053.80 1077.6 L1054.20 1081.1 L1054.60 1077.9 L1055.00 1070.4 L1055.40 1077.9 L1055.80 1074.7 L1056.20 1073.4 L1056.60 1073.4 L1057.00 1069.0 L1057.00 1070.2 L1057.40 1067.4 L1057.80 1066.6 L1058.20 1062.1 L1058.60 1061.7 L1059.00 1060.6 L1059.40 1057.4 L1059.50 1056.9 L1059.51 1064.0 L1059.52 1056.9 L1059.80 1054.9 L1060.20 1055.2 L1060.60 1051.4 L1061.00 1053.0 L1061.01 1064.0 L1061.02 1053.0 L1061.40 1049.6 L1061.40 1052.3 L1061.80 1054.1 L1062.20 1054.5 L1062.60 1057.4 L1062.61 1064.0 L1062.62 1057.4 L1063.00 1060.8 L1063.40 1060.8 L1063.50 1062.9 L1063.80 1061.6 L1064.20 1066.8 L1064.60 1068.0 L1065.00 1066.8 L1065.40 1071.6 L1065.80 1073.7 L1066.20 1074.0 L1066.20 1073.5 L1066.60 1069.9 L1067.00 1066.2 L1067.40 1062.2 L1067.80 1059.7 L1067.81 1062.0 L1067.82 1059.7 L1068.00 1059.2 L1068.20 1055.6 L1068.60 1054.1 L1069.00 1053.0 L1069.40 1048.7 L1069.41 1062.0 L1069.42 1048.7 L1069.70 1048.6 L1069.80 1050.6 L1070.20 1050.5 L1070.60 1052.1 L1071.00 1052.4 L1071.01 1062.0 L1071.02 1052.4 L1071.40 1050.4 L1071.80 1058.3 L1072.00 1047.8 L1072.20 1050.1 L1072.60 1049.6 L1072.61 1062.0 L1072.62 1049.6 L1073.00 1047.6 L1073.40 1065.0 L1073.80 1049.2 L1074.20 1052.0 L1074.60 1064.3 L1075.00 1067.5 L1075.40 1062.4 L1075.80 1063.7 L1075.90 1064.1 L1076.20 1059.5 L1076.60 1061.0 L1077.00 1063.9 L1077.40 1058.5 L1077.80 1059.3 L1078.20 1054.5 L1078.21 1062.0 L1078.22 1054.5 L1078.60 1062.2 L1079.00 1058.6 L1079.00 1060.4 L1079.40 1052.5 L1079.80 1052.5 L1079.81 1062.0 L1079.82 1052.5 L1080.20 1052.3 L1080.60 1056.7 L1081.00 1051.2 L1081.40 1054.2 L1081.41 1062.0 L1081.42 1054.2 L1081.50 1051.1 L1081.80 1054.8 L1082.20 1055.7 L1082.60 1049.0 L1083.00 1048.1 L1083.01 1062.0 L1083.02 1048.1 L1083.40 1054.3 L1083.80 1059.8 L1084.20 1050.6 L1084.30 1050.3 L1084.60 1062.3 L1085.00 1045.8 L1085.01 1062.0 L1085.02 1045.8 L1085.40 1052.8 L1085.80 1052.9 L1086.20 1059.0 L1086.60 1056.4 L1086.61 1062.0 L1086.62 1056.4 L1087.00 1059.5 L1087.00 1059.5 L1087.40 1058.6 L1087.80 1060.7 L1088.20 1064.5 L1088.60 1066.1 L1089.00 1067.3 L1089.40 1070.7 L1089.80 1069.8 L1090.20 1073.4 L1090.50 1076.9 L1090.60 1074.4 L1091.00 1078.0 L1091.40 1078.7 L1091.80 1080.3 L1092.20 1079.4 L1092.60 1075.9 L1093.00 1081.4 L1093.40 1082.2 L1093.50 1079.8 L1093.80 1084.4 L1094.20 1082.4 L1094.60 1083.0 L1095.00 1085.3 L1095.40 1084.9 L1095.80 1083.2 L1096.20 1086.6 L1096.50 1083.1 L1096.60 1085.5 L1097.00 1083.8 L1097.40 1081.3 L1097.80 1086.5 L1098.20 1086.5 L1098.60 1083.1 L1099.00 1084.3 L1099.40 1083.7 L1099.80 1084.9 L1100.20 1080.7 L1100.60 1087.7 L1101.00 1087.2 L1101.40 1079.7 L1101.80 1082.5 L1102.00 1081.5 L1102.20 1079.3 L1102.60 1086.2 L1103.00 1078.8 L1103.40 1077.5 L1103.80 1085.0 L1104.20 1078.4 L1104.60 1077.8 L1105.00 1080.4 L1105.40 1080.8 L1105.80 1078.9 L1106.20 1084.4 L1106.60 1084.6 L1107.00 1074.5 L1107.40 1084.4 L1107.80 1078.2 L1108.00 1078.5 L1108.20 1074.7 L1108.60 1077.8 L1109.00 1073.4 L1109.40 1072.5 L1109.80 1074.6 L1110.20 1074.7 L1110.60 1079.7 L1111.00 1078.0 L1111.40 1072.7 L1111.80 1074.6 L1112.20 1077.6 L1112.60 1073.5 L1113.00 1080.7 L1113.00 1076.2 L1113.40 1070.0 L1113.80 1070.1 L1114.20 1076.2 L1114.60 1077.1 L1115.00 1074.1 L1115.40 1079.7 L1115.80 1071.3 L1116.20 1077.2 L1116.60 1077.6 L1117.00 1077.4 L1117.40 1078.9 L1117.80 1074.8 L1118.20 1074.4 L1118.60 1075.4 L1119.00 1073.9 L1119.00 1078.6 L1119.40 1082.6 L1119.80 1078.4 L1120.20 1082.3 L1120.60 1075.5 L1121.00 1079.5 L1121.40 1076.9 L1121.80 1080.3 L1122.20 1079.3 L1122.60 1079.6 L1123.00 1083.5 L1123.40 1082.1 L1123.80 1083.3 L1124.20 1083.1 L1124.60 1079.6 L1125.00 1077.5 L1125.40 1081.6 L1125.80 1078.9 L1126.00 1078.5 L1126.20 1078.2 L1126.60 1086.8 L1127.00 1084.7 L1127.40 1082.4 L1127.80 1082.9 L1128.20 1083.3 L1128.60 1083.5 L1129.00 1088.0 L1129.40 1082.4 L1129.80 1086.0 L1130.20 1082.8 L1130.60 1089.1 L1131.00 1088.8 L1131.40 1082.3 L1131.80 1088.5 L1132.20 1083.9 L1132.60 1082.7 L1133.00 1091.0 L1133.00 1087.5 L1133.40 1083.9 L1133.80 1089.3 L1134.20 1082.4 L1134.60 1085.7 L1135.00 1083.0 L1135.40 1081.1 L1135.80 1082.2 L1136.20 1082.7 L1136.60 1085.3 L1137.00 1083.0 L1137.40 1085.0 L1137.80 1083.2 L1138.20 1082.1 L1138.60 1081.5 L1139.00 1082.9 L1139.40 1087.5 L1139.80 1084.3 L1140.20 1083.2 L1140.60 1083.5 L1141.00 1083.7 L1141.40 1088.2 L1141.80 1085.4 L1142.20 1081.8 L1142.60 1085.1 L1143.00 1083.0 L1143.40 1083.6 L1143.80 1089.1 L1144.20 1082.5 L1144.60 1087.1 L1145.00 1090.3 L1145.40 1084.5 L1145.80 1081.3 L1146.20 1085.6 L1146.60 1091.1 L1147.00 1086.4 L1147.40 1087.2 L1147.80 1088.0 L1148.20 1081.8 L1148.60 1083.5 L1149.00 1087.9 L1149.40 1084.7 L1149.80 1085.8 L1150.20 1086.0 L1150.60 1089.4 L1151.00 1083.5 L1151.40 1088.1 L1151.80 1086.9 L1152.20 1086.3 L1152.60 1082.6 L1153.00 1088.5 L1153.40 1084.6 L1153.80 1089.3 L1154.20 1087.6 L1154.60 1081.7 L1155.00 1083.9 L1155.40 1089.2 L1155.80 1083.9 L1156.20 1081.5 L1156.60 1084.1 L1157.00 1088.5 L1157.40 1083.9 L1157.80 1088.7 L1158.20 1083.9 L1158.60 1089.4 L1159.00 1087.3 L1159.40 1086.2 L1159.80 1089.8 L1160.00 1082.9 L1160.20 1087.5 L1160.60 1082.1 L1161.00 1085.9 L1161.40 1088.0 L1161.80 1086.3 L1162.20 1084.0 L1162.60 1085.3 L1163.00 1084.1 L1163.40 1079.2 L1163.80 1082.6 L1164.20 1087.2 L1164.60 1084.8 L1165.00 1086.8 L1165.40 1083.2 L1165.80 1085.8 L1166.20 1083.1 L1166.60 1084.2 L1167.00 1084.0 L1167.40 1085.1 L1167.80 1088.8 L1168.20 1083.8 L1168.60 1081.7 L1169.00 1082.7 L1169.40 1084.3 L1169.80 1085.5 L1170.20 1088.3 L1170.60 1083.1 L1171.00 1080.4 L1171.40 1085.7 L1171.80 1080.4 L1172.20 1088.9 L1172.60 1088.8 L1173.00 1083.2 L1173.40 1083.7 L1173.80 1089.4 L1174.20 1087.4 L1174.60 1086.9 L1175.00 1087.6 L1175.40 1090.4 L1175.80 1085.6 L1176.20 1087.0 L1176.60 1083.0 L1177.00 1088.1 L1177.40 1082.5 L1177.80 1084.2 L1178.20 1083.0 L1178.60 1084.8 L1179.00 1090.8 L1179.40 1088.7 L1179.80 1081.3 L1180.20 1088.5 L1180.60 1082.9 L1181.00 1084.7 L1181.40 1086.7 L1181.80 1086.0 L1182.20 1086.3 L1182.60 1090.0 L1183.00 1081.9 L1183.40 1088.6 L1183.80 1086.2 L1184.20 1088.6 L1184.60 1080.9 L1185.00 1087.7 L1185.40 1080.2 L1185.80 1081.0 L1186.20 1083.1 L1186.60 1086.6 L1187.00 1087.3 L1187.40 1086.1 L1187.80 1083.1 L1188.20 1086.0 L1188.60 1081.3 L1189.00 1078.8 L1189.40 1086.6 L1189.80 1084.8 L1190.20 1082.3 L1190.60 1088.4 L1191.00 1084.0 L1191.40 1085.9 L1191.80 1080.5 L1192.20 1085.3 L1192.60 1086.6 L1193.00 1090.1 L1193.40 1087.2 L1193.80 1085.2 L1194.20 1090.0 L1194.60 1088.5 L1195.00 1087.4 L1195.40 1085.3 L1195.80 1083.6 L1196.20 1086.6 L1196.60 1092.4 L1197.00 1087.7 L1197.40 1090.9 L1197.80 1082.4 L1198.20 1090.0 L1198.60 1079.4 L1199.00 1081.6 L1199.40 1089.7 L1199.80 1082.0 L1200.20 1089.2 L1200.60 1087.2 L1201.00 1084.6 L1201.40 1082.4 L1201.80 1085.4 L1202.20 1084.2 L1202.60 1081.2 L1203.00 1079.8 L1203.40 1081.5 L1203.80 1079.8 L1204.20 1085.6 L1204.60 1085.6 L1205.00 1079.8 L1205.40 1081.7 L1205.80 1086.0 L1206.00 1079.6 L1206.20 1081.0 L1206.60 1083.9 L1207.00 1087.3 L1207.40 1082.8 L1207.80 1079.7 L1208.20 1081.8 L1208.60 1083.5 L1209.00 1086.9 L1209.40 1082.1 L1209.80 1084.6 L1210.20 1087.3 L1210.60 1079.6 L1211.00 1082.6 L1211.40 1087.1 L1211.80 1086.4 L1212.20 1076.4 L1212.60 1079.1 L1213.00 1083.7 L1213.40 1079.6 L1213.80 1077.9 L1214.20 1079.3 L1214.60 1082.5 L1215.00 1085.4 L1215.40 1080.7 L1215.80 1082.5 L1216.00 1080.9 L1216.20 1077.6 L1216.60 1082.6 L1217.00 1079.5 L1217.40 1085.2 L1217.80 1080.2 L1218.20 1079.0 L1218.60 1077.3 L1219.00 1084.8 L1219.40 1078.9 L1219.80 1076.3 L1220.20 1079.3 L1220.60 1084.6 L1221.00 1080.1 L1221.40 1080.3 L1221.80 1078.0 L1222.20 1074.2 L1222.60 1076.6 L1223.00 1076.6 L1223.00 1076.0 L1223.40 1074.9 L1223.80 1073.7 L1224.20 1075.2 L1224.60 1073.3 L1225.00 1072.8 L1225.40 1072.3 L1225.80 1076.0 L1226.20 1072.6 L1226.60 1078.8 L1227.00 1071.9 L1227.40 1076.2 L1227.80 1072.2 L1228.20 1075.6 L1228.60 1076.7 L1229.00 1075.2 L1229.40 1072.3 L1229.80 1067.5 L1229.80 1078.6 L1230.20 1079.7 L1230.60 1075.1 L1231.00 1069.8 L1231.40 1081.0 L1231.80 1071.8 L1232.20 1070.7 L1232.60 1068.4 L1233.00 1074.6 L1233.40 1076.9 L1233.80 1077.3 L1234.20 1075.3 L1234.60 1079.7 L1235.00 1071.6 L1235.40 1080.0 L1235.80 1080.6 L1236.00 1076.0 L1236.20 1077.4 L1236.60 1074.8 L1237.00 1074.8 L1237.40 1080.6 L1237.80 1073.8 L1238.20 1080.6 L1238.60 1077.9 L1239.00 1078.2 L1239.40 1074.2 L1239.80 1073.7 L1240.20 1077.5 L1240.60 1079.2 L1241.00 1077.9 L1241.40 1083.5 L1241.80 1076.1 L1242.20 1077.9 L1242.60 1078.5 L1243.00 1084.2 L1243.40 1081.5 L1243.80 1080.2 L1244.20 1077.1 L1244.60 1083.0 L1245.00 1082.6 L1245.40 1081.1 L1245.80 1080.8 L1246.20 1082.8 L1246.60 1081.1 L1247.00 1076.7 L1247.40 1082.0 L1247.50 1083.1 L1247.80 1083.1 L1248.20 1083.6 L1248.60 1085.5 L1249.00 1080.4 L1249.40 1085.2 L1249.80 1087.6 L1250.20 1085.2 L1250.60 1082.5 L1251.00 1082.8 L1251.40 1080.2 L1251.80 1083.6 L1252.20 1082.4 L1252.60 1081.2 L1253.00 1084.7 L1253.40 1081.6 L1253.80 1082.0 L1254.20 1080.7 L1254.60 1087.0 L1255.00 1085.8 L1255.40 1083.1 L1255.80 1087.5 L1256.20 1085.0 L1256.60 1087.9 L1257.00 1083.4 L1257.40 1085.8 L1257.80 1086.9 L1258.20 1088.5 L1258.60 1086.7 L1259.00 1082.8 L1259.40 1083.6 L1259.80 1080.5 L1260.20 1083.3 L1260.60 1089.2 L1261.00 1084.0 L1261.40 1088.9 L1261.80 1085.7 L1262.20 1086.2 L1262.60 1082.6 L1263.00 1086.1 L1263.40 1086.4 L1263.80 1085.6 L1264.20 1087.7 L1264.60 1082.5 L1265.00 1086.0 L1265.40 1086.7 L1265.80 1088.5 L1266.20 1089.1 L1266.60 1089.2 L1267.00 1085.7 L1267.40 1090.5 L1267.80 1090.7 L1268.00 1091.2 L1268.20 1086.6 L1268.60 1089.7 L1269.00 1090.9 L1269.40 1090.4 L1269.80 1087.1 L1270.20 1083.2 L1270.60 1088.1 L1271.00 1083.8 L1271.40 1082.5 L1271.80 1085.4 L1272.20 1085.7 L1272.60 1086.0 L1273.00 1087.2 L1273.40 1090.1 L1273.80 1082.5 L1274.20 1086.9 L1274.60 1083.0 L1275.00 1087.3 L1275.40 1088.1 L1275.80 1089.2 L1276.20 1082.1 L1276.60 1090.7 L1277.00 1083.1 L1277.40 1087.1 L1277.80 1087.6 L1278.20 1083.5 L1278.60 1082.0 L1279.00 1089.7 L1279.40 1084.9 L1279.80 1091.7 L1280.20 1086.9 L1280.60 1084.9 L1281.00 1085.7 L1281.40 1083.7 L1281.80 1089.0 L1282.20 1086.5 L1282.60 1087.7 L1283.00 1088.7 L1283.40 1082.0 L1283.80 1081.7 L1284.20 1083.2 L1284.60 1080.9 L1285.00 1086.5 L1285.40 1080.2 L1285.80 1087.2 L1286.20 1083.3 L1286.60 1081.6 L1287.00 1085.8 L1287.40 1085.7 L1287.80 1091.9 L1288.20 1090.6 L1288.60 1083.1 L1289.00 1085.3 L1289.40 1089.7 L1289.80 1086.9 L1290.20 1086.2 L1290.60 1090.0 L1291.00 1087.6 L1291.40 1087.0 L1291.80 1089.0 L1292.20 1087.3 L1292.60 1084.1 L1293.00 1088.6 L1293.40 1085.2 L1293.80 1088.7 L1294.20 1081.9 L1294.60 1085.7 L1295.00 1084.7 L1295.40 1087.2 L1295.80 1086.2 L1296.20 1086.7 L1296.60 1085.6 L1297.00 1083.1 L1297.40 1085.9 L1297.80 1087.5 L1298.20 1083.5 L1298.60 1085.3 L1299.00 1092.0 L1299.40 1090.7 L1299.80 1092.2 L1300.20 1088.0 L1300.60 1091.2 L1301.00 1088.1 L1301.40 1090.1 L1301.80 1086.8 L1302.20 1085.6 L1302.60 1091.8 L1303.00 1083.8 L1303.40 1087.4 L1303.80 1083.1 L1304.20 1084.4 L1304.60 1091.5 L1305.00 1084.9 L1305.40 1084.9 L1305.80 1088.6 L1306.20 1084.7 L1306.60 1085.6 L1307.00 1088.0 L1307.40 1089.2 L1307.80 1083.2 L1308.20 1088.5 L1308.60 1089.5 L1309.00 1084.9 L1309.00 1089.5" fill="none" stroke="#000" stroke-width="4.2" stroke-linejoin="round" stroke-linecap="butt"/>
<text x="126.6" y="1262.4" font-size="54" text-anchor="middle">10</text>
<text x="362.8" y="1262.4" font-size="54" text-anchor="middle">20</text>
<text x="598.9" y="1262.4" font-size="54" text-anchor="middle">30</text>
<text x="835.1" y="1262.4" font-size="54" text-anchor="middle">40</text>
<text x="1071.2" y="1262.4" font-size="54" text-anchor="middle">50</text>
<text x="1307.4" y="1262.4" font-size="54" text-anchor="middle">60</text>
<text x="529.4" y="1375.6" font-size="71.5">2<tspan class="th" font-size="64.5" dx="-0.8" stroke="#000" stroke-width="0.9">θ</tspan><tspan font-size="71.2" dx="-2.2"> (degree)</tspan></text>
<text transform="translate(52.4 595.3) rotate(-90)" font-size="70.5" text-anchor="middle">Intensity (a. u.)</text>
<text x="1247.5" y="346.3" font-size="58" letter-spacing="1" text-anchor="end">Cu<tspan font-size="40" dy="13.4">2</tspan><tspan dy="-13.4">Te-graphene</tspan></text>
<text x="1247.5" y="844.8" font-size="58" letter-spacing="1" text-anchor="end">raw Cu<tspan font-size="40" dy="13.4">2</tspan><tspan dy="-13.4">Te</tspan></text>
</g>
</svg></body></html>
